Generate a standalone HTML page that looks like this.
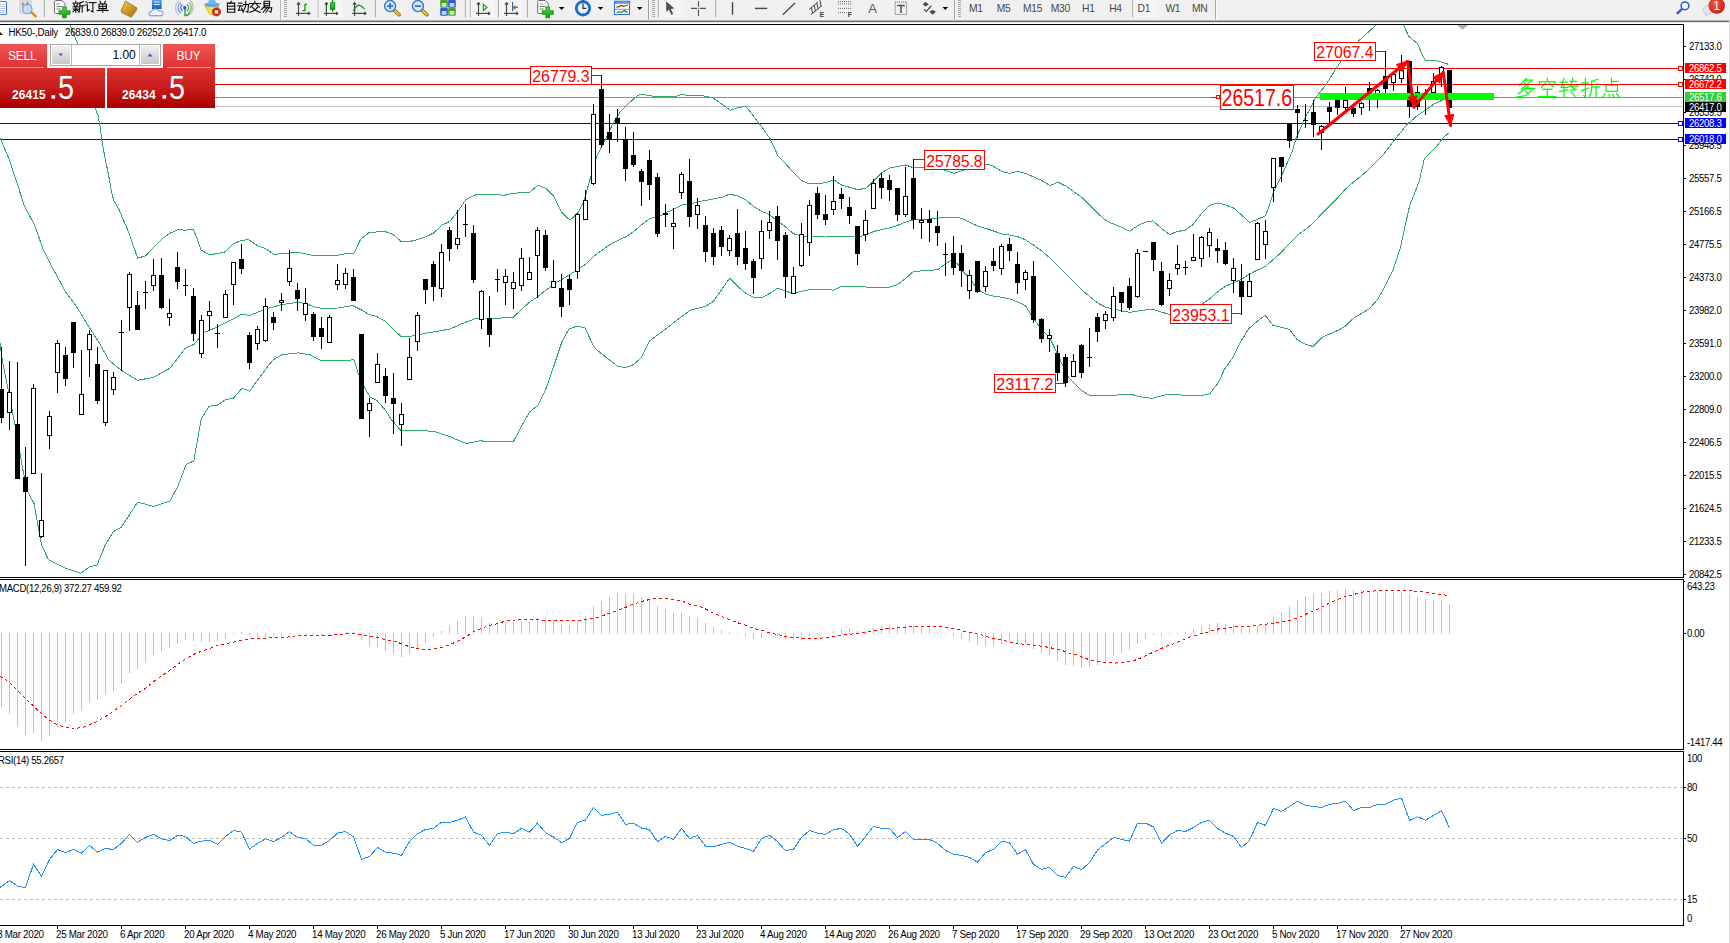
<!DOCTYPE html>
<html><head><meta charset="utf-8"><title>HK50 Daily</title>
<style>html,body{margin:0;padding:0;background:#fff;width:1730px;height:943px;overflow:hidden}svg{display:block}text{white-space:pre}</style>
</head><body>
<svg width="1730" height="943" viewBox="0 0 1730 943" font-family="'Liberation Sans', sans-serif" style="position:absolute;left:0;top:0">
<rect x="0" y="0" width="1730" height="943" fill="#fff" />
<g shape-rendering="crispEdges">
</g>
<polyline points="1526.68,78.30 1519.63,85.35" fill="none" stroke="#00ff00" stroke-width="1.25" stroke-linecap="square" stroke-linejoin="miter"/>
<polyline points="1525.12,80.18 1532.17,80.18 1521.20,89.27" fill="none" stroke="#00ff00" stroke-width="1.25" stroke-linecap="square" stroke-linejoin="miter"/>
<polyline points="1524.33,83.00 1527.47,85.04" fill="none" stroke="#00ff00" stroke-width="1.25" stroke-linecap="square" stroke-linejoin="miter"/>
<polyline points="1528.25,86.13 1518.07,93.97" fill="none" stroke="#00ff00" stroke-width="1.25" stroke-linecap="square" stroke-linejoin="miter"/>
<polyline points="1526.68,88.48 1534.52,88.48 1525.90,95.53 1516.50,97.10" fill="none" stroke="#00ff00" stroke-width="1.25" stroke-linecap="square" stroke-linejoin="miter"/>
<polyline points="1525.12,91.30 1528.25,93.18" fill="none" stroke="#00ff00" stroke-width="1.25" stroke-linecap="square" stroke-linejoin="miter"/>
<polyline points="1547.30,78.30 1547.30,80.34" fill="none" stroke="#00ff00" stroke-width="1.25" stroke-linecap="square" stroke-linejoin="miter"/>
<polyline points="1539.47,81.75 1555.13,81.75" fill="none" stroke="#00ff00" stroke-width="1.25" stroke-linecap="square" stroke-linejoin="miter"/>
<polyline points="1539.47,81.75 1539.47,84.57" fill="none" stroke="#00ff00" stroke-width="1.25" stroke-linecap="square" stroke-linejoin="miter"/>
<polyline points="1555.13,81.75 1554.04,84.57" fill="none" stroke="#00ff00" stroke-width="1.25" stroke-linecap="square" stroke-linejoin="miter"/>
<polyline points="1545.42,83.31 1541.50,87.39" fill="none" stroke="#00ff00" stroke-width="1.25" stroke-linecap="square" stroke-linejoin="miter"/>
<polyline points="1549.18,83.31 1553.25,86.92" fill="none" stroke="#00ff00" stroke-width="1.25" stroke-linecap="square" stroke-linejoin="miter"/>
<polyline points="1542.60,89.27 1552.00,89.27" fill="none" stroke="#00ff00" stroke-width="1.25" stroke-linecap="square" stroke-linejoin="miter"/>
<polyline points="1547.30,89.27 1547.30,96.63" fill="none" stroke="#00ff00" stroke-width="1.25" stroke-linecap="square" stroke-linejoin="miter"/>
<polyline points="1538.68,96.63 1555.92,96.63" fill="none" stroke="#00ff00" stroke-width="1.25" stroke-linecap="square" stroke-linejoin="miter"/>
<polyline points="1560.08,82.22 1567.13,82.22" fill="none" stroke="#00ff00" stroke-width="1.25" stroke-linecap="square" stroke-linejoin="miter"/>
<polyline points="1564.00,78.30 1561.18,87.39 1567.92,87.39" fill="none" stroke="#00ff00" stroke-width="1.25" stroke-linecap="square" stroke-linejoin="miter"/>
<polyline points="1564.00,84.57 1564.00,97.10" fill="none" stroke="#00ff00" stroke-width="1.25" stroke-linecap="square" stroke-linejoin="miter"/>
<polyline points="1559.30,91.62 1567.92,89.74" fill="none" stroke="#00ff00" stroke-width="1.25" stroke-linecap="square" stroke-linejoin="miter"/>
<polyline points="1569.95,81.43 1576.53,81.43" fill="none" stroke="#00ff00" stroke-width="1.25" stroke-linecap="square" stroke-linejoin="miter"/>
<polyline points="1568.39,86.13 1578.10,86.13" fill="none" stroke="#00ff00" stroke-width="1.25" stroke-linecap="square" stroke-linejoin="miter"/>
<polyline points="1572.77,78.30 1570.74,86.13 1575.75,89.58 1570.74,90.36" fill="none" stroke="#00ff00" stroke-width="1.25" stroke-linecap="square" stroke-linejoin="miter"/>
<polyline points="1571.52,92.40 1574.97,96.32" fill="none" stroke="#00ff00" stroke-width="1.25" stroke-linecap="square" stroke-linejoin="miter"/>
<polyline points="1581.48,83.00 1588.53,83.00" fill="none" stroke="#00ff00" stroke-width="1.25" stroke-linecap="square" stroke-linejoin="miter"/>
<polyline points="1585.40,78.30 1585.40,97.10 1583.52,95.53" fill="none" stroke="#00ff00" stroke-width="1.25" stroke-linecap="square" stroke-linejoin="miter"/>
<polyline points="1581.17,90.83 1588.53,88.01" fill="none" stroke="#00ff00" stroke-width="1.25" stroke-linecap="square" stroke-linejoin="miter"/>
<polyline points="1597.93,79.24 1591.67,81.43" fill="none" stroke="#00ff00" stroke-width="1.25" stroke-linecap="square" stroke-linejoin="miter"/>
<polyline points="1591.67,81.43 1591.67,90.05 1589.47,97.10" fill="none" stroke="#00ff00" stroke-width="1.25" stroke-linecap="square" stroke-linejoin="miter"/>
<polyline points="1591.67,86.92 1599.50,86.92" fill="none" stroke="#00ff00" stroke-width="1.25" stroke-linecap="square" stroke-linejoin="miter"/>
<polyline points="1596.05,86.92 1596.05,97.10" fill="none" stroke="#00ff00" stroke-width="1.25" stroke-linecap="square" stroke-linejoin="miter"/>
<polyline points="1611.50,78.30 1611.50,85.04" fill="none" stroke="#00ff00" stroke-width="1.25" stroke-linecap="square" stroke-linejoin="miter"/>
<polyline points="1611.50,81.43 1618.24,81.43" fill="none" stroke="#00ff00" stroke-width="1.25" stroke-linecap="square" stroke-linejoin="miter"/>
<polyline points="1606.02,85.04 1617.45,85.04 1617.45,91.30 1606.02,91.30 1606.02,85.04" fill="none" stroke="#00ff00" stroke-width="1.25" stroke-linecap="square" stroke-linejoin="miter"/>
<polyline points="1604.92,93.65 1603.04,97.10" fill="none" stroke="#00ff00" stroke-width="1.25" stroke-linecap="square" stroke-linejoin="miter"/>
<polyline points="1608.99,93.97 1609.78,97.10" fill="none" stroke="#00ff00" stroke-width="1.25" stroke-linecap="square" stroke-linejoin="miter"/>
<polyline points="1612.75,93.97 1613.85,97.10" fill="none" stroke="#00ff00" stroke-width="1.25" stroke-linecap="square" stroke-linejoin="miter"/>
<polyline points="1616.51,93.65 1619.33,97.10" fill="none" stroke="#00ff00" stroke-width="1.25" stroke-linecap="square" stroke-linejoin="miter"/>
<g shape-rendering="crispEdges">
<rect x="0" y="68" width="1683" height="1" fill="#ff0000" />
<rect x="0" y="84" width="1683" height="1" fill="#ff0000" />
<rect x="0" y="97" width="1683" height="1" fill="#32cd32" />
<rect x="0" y="106" width="1683" height="1" fill="#c0c0c0" />
<rect x="0" y="123" width="1683" height="1" fill="#0000ff" />
<rect x="0" y="139" width="1683" height="1" fill="#0000ff" />
</g>
<g id="bands" stroke-linejoin="round" shape-rendering="crispEdges">
<polyline points="70.2,25 76.8,41.6 96.1,110.2 98,115.3 99.9,125.4 101.8,139.4 103.7,150.9 106.2,163.6 108.8,176.3 112,194.1 113.9,200.5 119,209.4 123.4,220 129.5,234.5 137.6,258.1 145.7,255.8 153.8,247.2 161.8,239.1 170,233.3 178,229.4 185,230.3 193.1,229.2 196.5,236.8 201.2,250.2 209.2,254.6 217.3,253.7 225.4,251.8 233.5,243.7 241.6,240.3 248.6,239.6 257.8,246 265.9,248.8 274,254.6 282.1,253.4 298.3,252.5 312.1,255.3 322.5,255.8 337.6,255.3 344.5,253.9 353.8,253.4 360.7,239.1 368.8,232.9 383.8,231 393.1,234.5 401.2,241.5 409.3,241.5 417.4,239.7 425.5,236.9 433.6,233 441.7,225.3 449.8,221.4 457.9,211.4 466,199.4 474.1,195.3 479.9,194.1 491.4,194.1 504.1,195.3 513.4,193.4 521.5,192.5 529.6,192.3 537.7,185.3 545.8,188.3 553.8,196.4 561.9,212.6 570,220.2 578.1,212.6 583.9,201 590.8,176.8 596.6,157.1 604.7,140.9 612.8,123.6 620.9,110.9 629,103.2 637.1,95.8 641.7,94.2 653.3,96.3 669.5,96.3 674.1,97 681,94.7 690.3,95.4 701.8,95.4 713.4,98.2 721.5,103.9 730.3,110.2 737.7,107.9 745.8,106.2 753.8,116.6 762,127.1 770,138.6 778.1,156 784,162 793.2,172.4 801.3,180.5 809.4,183.9 817.5,183.5 825.6,182.8 833.7,179.8 841.8,185.1 849.9,187.4 858,189.7 866.1,188.1 874.2,180.5 882.3,172.4 889.2,168.2 897.3,166.6 905.4,165 913.5,167.7 922.7,167.7 941.2,168.9 954,173.5 966.7,168.9 985.2,164.3 992.1,165.4 1001.3,171.2 1009.4,173.5 1017.5,171.2 1025.6,173.5 1033.7,177 1041.8,180.5 1049.9,185.5 1058,182.3 1066.1,186.2 1074.2,192 1082.3,197.8 1090.4,205.9 1098.5,214 1106.5,220.9 1114.6,224.4 1121.6,227.4 1129.7,231.3 1137.8,225.5 1145.8,222.1 1152.8,220.9 1160.9,227.9 1169.5,234.6 1177.3,231.5 1185.1,230.3 1193,224.6 1201.6,213.3 1209.4,205.5 1217.2,202.9 1225,204.6 1233.7,208.1 1241.5,215 1249.8,222.5 1257.1,219.4 1265.4,215.9 1269.2,205.5 1273.6,191.6 1281.4,176 1289.2,158.7 1292.7,150 1295.7,139.3 1304.7,118.4 1311.7,105.9 1315.8,97.6 1325.6,85.1 1335.3,69.8 1340.8,61.5 1358.9,40.7 1376.3,24.7" fill="none" stroke="#2caa66" stroke-width="1" />
<polyline points="1403.3,24.7 1408.9,36.5 1417.2,43.4 1424.9,60.1 1436.7,60.8 1448.5,64.3" fill="none" stroke="#2caa66" stroke-width="1" />
<polyline points="0,138.5 1.3,140.7 8.9,158.5 16.5,181.4 24.2,205.6 31.8,220 34.7,225.2 42.8,248.4 53.2,269.2 65.9,292.3 76.3,306.2 89,327 99.4,343.2 108.7,360 121.4,370.4 137.6,380.3 153.8,377.3 170,368.1 176,360.5 185,348.4 194.2,344.3 203.5,332.8 217.3,327 233.5,318.9 241.6,314.3 249.7,315.4 265.9,308.9 282.1,304.5 298.3,302.2 306.4,303.8 314.5,306.9 322.5,308.5 337.6,308 352.6,305.5 360.7,309.6 368.8,314.3 376.9,316.6 385,321.2 393.1,329.3 401.2,336.5 409.3,336.5 419.7,334.4 433.6,331.9 449.8,329.1 461.4,324 475.2,318.7 484.5,318 498.4,318.2 513.4,317.1 521.5,309.5 529.6,302.1 537.7,296.7 545.8,290.3 553.8,284 561.9,279.4 570,274.5 578.1,269 586.2,264 594.3,255.8 602.4,250 610.5,244.2 618.6,240.1 625.5,237 633.6,231.5 641.7,224.6 649.8,218.4 657.9,217.2 666,212.6 674.1,209.1 682.2,205 690.3,204 698.4,201.7 706.5,200.3 714.6,198.7 722.6,197.1 729.6,194.1 737.7,196 745.8,199.9 753.8,206.8 762,211.4 770,214.9 778.1,221.8 784,225.5 793.2,233.6 801.3,236 809.4,236.6 825.6,236 841.8,236.6 858,237.1 866.1,234.8 874.2,231.3 889.2,227.9 897.3,225.5 905.4,222.1 913.5,219.8 929.7,219.1 937.8,218.2 945.8,217 956.3,217 962,218.6 970.1,222.5 978.2,226.2 986.3,228.6 994.4,231.3 1002.5,234.1 1010.6,235.3 1017.5,236.6 1025.6,239.9 1033.7,245.2 1041.8,251 1049.9,257.9 1058,266 1066.1,274.1 1074.2,282.2 1082.3,290.3 1090.4,297.2 1098.5,303.5 1106.5,307.6 1114.6,309.2 1121.6,311.1 1129.7,312.3 1137.8,311.1 1145.8,309.9 1153.9,309.5 1162,312.3 1170,314.6 1185,310 1201.6,304.3 1209.4,299.1 1217.2,292.2 1225,286.6 1233.7,282.7 1241.5,279.2 1249.8,274 1257.1,270.2 1265.4,266.5 1273.6,259.2 1281.4,252.3 1289.2,243.6 1297,235.8 1304.8,229.8 1312.6,223.7 1321.3,214.2 1329.1,206.4 1336.9,198.6 1344.7,189.9 1352.5,182.9 1361.1,176 1368.9,169.1 1376.8,161.3 1383.2,155 1395,139.3 1407.5,124 1417.2,115.7 1425.6,110.1 1433.9,103.9 1443.6,99.7 1449,97.5" fill="none" stroke="#2caa66" stroke-width="1" />
<polyline points="0,343 2.3,360 15,424.7 23.1,471 27.7,491.8 34,503.4 38.2,526.5 41.6,545 48.6,560 67,568.8 81,573.2 89,567 97.1,565.1 105.2,545 113.3,531.8 121.4,527 137.6,502.2 153.8,506.4 170,501 178,486 186.1,464.5 193.8,461 196.5,445.5 201.2,419 209.2,406.2 217.3,405.1 225.4,399.8 233.5,398.2 242,388.2 249.7,391.2 257.8,379.7 272.8,360 282,354.7 298.3,352.9 309.8,354.7 320.2,360 342,360 349,361 353.8,359 358.4,373.9 364.2,386.6 370,397 376.9,400.5 385,409.7 392,420.4 401.2,430.8 419.7,430.4 434.8,431.5 449.8,436.6 466,443.6 479.9,440.8 491.4,441.7 513.4,441.7 521.5,426.2 529.6,411.9 537.7,405.4 545.8,389.2 553.8,366.1 561.9,341.8 568.9,329.1 577,326.1 585,328 594.3,347.6 602.4,354.5 617.4,366.1 625.5,367.7 632.5,365 640.6,358.7 649.8,340.7 657.9,334.9 672.9,323.3 690.3,310.2 705.3,306.5 713.4,301.4 721.5,289.8 729.6,278.2 737.7,286.3 745.8,293.3 753.8,297.4 762,297.4 770,293.3 777.4,288.2 784,290.3 793.2,293.8 801.3,291.4 809.4,289.6 825.6,289.1 833.7,290.3 841.8,286.1 858,286.4 869.5,287.3 889.2,287.3 897.3,284.5 905.4,278.7 913.5,271.3 929.7,270.6 937.8,269.5 945.8,263.7 950.5,260.9 957.4,263.7 962,270.6 970.1,278.7 977.1,289.1 985.2,293.8 993.2,296.1 1001.3,297.2 1009.4,298.8 1017.5,301.8 1025.6,306 1033,317.6 1041.1,328.9 1049.2,337 1054.1,346.8 1057.3,353.3 1062.2,364.6 1068.7,377.6 1075.2,384.1 1081.6,390.6 1089.8,395.5 1115.7,395.1 1130.3,394.2 1140,396.7 1152.2,398.4 1164.4,395.1 1174.1,394.2 1182.2,395.1 1203.3,395.1 1209.8,393.8 1217.9,383.3 1224.4,369.5 1232.5,358.1 1240.6,341.9 1248.7,328.9 1256.9,321.6 1265.2,315.3 1272.7,325.1 1280.8,327.2 1289.5,329.5 1297,339.5 1305.1,344.2 1313.2,346.5 1322.4,337.2 1330.5,333.5 1338.6,330.1 1345.5,326 1354.2,317.6 1361.7,313.3 1369.2,308.9 1377.9,299.1 1384.6,287 1392.4,271.4 1400.2,248.8 1405.4,224.6 1409.7,205.5 1414.9,192.5 1419.2,181.2 1424.4,158.7 1428.3,155 1436.7,146.2 1442.9,137.9 1448.5,133.3" fill="none" stroke="#2caa66" stroke-width="1" />
</g>
<g shape-rendering="crispEdges" id="candles">
<rect x="1" y="347" width="1" height="76" fill="#000" />
<rect x="-1" y="389" width="5" height="29" fill="#000" />
<rect x="9" y="361" width="1" height="69" fill="#000" />
<rect x="7" y="392" width="5" height="21" fill="#000" />
<rect x="8" y="393" width="3" height="19" fill="#fff" />
<rect x="17" y="362" width="1" height="117" fill="#000" />
<rect x="15" y="424" width="5" height="55" fill="#000" />
<rect x="25" y="447" width="1" height="119" fill="#000" />
<rect x="23" y="477" width="5" height="15" fill="#000" />
<rect x="33" y="384" width="1" height="90" fill="#000" />
<rect x="31" y="388" width="5" height="86" fill="#000" />
<rect x="32" y="389" width="3" height="84" fill="#fff" />
<rect x="41" y="473" width="1" height="65" fill="#000" />
<rect x="39" y="520" width="5" height="17" fill="#000" />
<rect x="40" y="521" width="3" height="15" fill="#fff" />
<rect x="49" y="411" width="1" height="38" fill="#000" />
<rect x="47" y="416" width="5" height="20" fill="#000" />
<rect x="48" y="417" width="3" height="18" fill="#fff" />
<rect x="57" y="340" width="1" height="53" fill="#000" />
<rect x="55" y="343" width="5" height="30" fill="#000" />
<rect x="56" y="344" width="3" height="28" fill="#fff" />
<rect x="65" y="347" width="1" height="39" fill="#000" />
<rect x="63" y="355" width="5" height="24" fill="#000" />
<rect x="73" y="322" width="1" height="46" fill="#000" />
<rect x="71" y="322" width="5" height="31" fill="#000" />
<rect x="81" y="350" width="1" height="65" fill="#000" />
<rect x="79" y="394" width="5" height="21" fill="#000" />
<rect x="80" y="395" width="3" height="19" fill="#fff" />
<rect x="89" y="330" width="1" height="47" fill="#000" />
<rect x="87" y="334" width="5" height="16" fill="#000" />
<rect x="88" y="335" width="3" height="14" fill="#fff" />
<rect x="97" y="347" width="1" height="57" fill="#000" />
<rect x="95" y="364" width="5" height="37" fill="#000" />
<rect x="105" y="370" width="1" height="56" fill="#000" />
<rect x="103" y="370" width="5" height="53" fill="#000" />
<rect x="104" y="371" width="3" height="51" fill="#fff" />
<rect x="113" y="372" width="1" height="23" fill="#000" />
<rect x="111" y="377" width="5" height="13" fill="#000" />
<rect x="112" y="378" width="3" height="11" fill="#fff" />
<rect x="121" y="320" width="1" height="51" fill="#000" />
<rect x="119" y="332" width="5" height="1" fill="#000" />
<rect x="129" y="272" width="1" height="59" fill="#000" />
<rect x="127" y="274" width="5" height="34" fill="#000" />
<rect x="128" y="275" width="3" height="32" fill="#fff" />
<rect x="137" y="291" width="1" height="39" fill="#000" />
<rect x="135" y="305" width="5" height="25" fill="#000" />
<rect x="145" y="281" width="1" height="28" fill="#000" />
<rect x="143" y="292" width="5" height="1" fill="#000" />
<rect x="153" y="259" width="1" height="32" fill="#000" />
<rect x="151" y="275" width="5" height="11" fill="#000" />
<rect x="152" y="276" width="3" height="9" fill="#fff" />
<rect x="161" y="258" width="1" height="51" fill="#000" />
<rect x="159" y="275" width="5" height="33" fill="#000" />
<rect x="169" y="299" width="1" height="27" fill="#000" />
<rect x="167" y="313" width="5" height="5" fill="#000" />
<rect x="168" y="314" width="3" height="3" fill="#fff" />
<rect x="177" y="252" width="1" height="37" fill="#000" />
<rect x="175" y="267" width="5" height="15" fill="#000" />
<rect x="185" y="269" width="1" height="27" fill="#000" />
<rect x="183" y="285" width="5" height="1" fill="#000" />
<rect x="193" y="288" width="1" height="53" fill="#000" />
<rect x="191" y="296" width="5" height="38" fill="#000" />
<rect x="201" y="315" width="1" height="43" fill="#000" />
<rect x="199" y="320" width="5" height="34" fill="#000" />
<rect x="200" y="321" width="3" height="32" fill="#fff" />
<rect x="209" y="301" width="1" height="30" fill="#000" />
<rect x="207" y="311" width="5" height="5" fill="#000" />
<rect x="208" y="312" width="3" height="3" fill="#fff" />
<rect x="217" y="324" width="1" height="24" fill="#000" />
<rect x="215" y="333" width="5" height="1" fill="#000" />
<rect x="225" y="290" width="1" height="28" fill="#000" />
<rect x="223" y="294" width="5" height="24" fill="#000" />
<rect x="224" y="295" width="3" height="22" fill="#fff" />
<rect x="233" y="262" width="1" height="43" fill="#000" />
<rect x="231" y="262" width="5" height="23" fill="#000" />
<rect x="232" y="263" width="3" height="21" fill="#fff" />
<rect x="241" y="244" width="1" height="30" fill="#000" />
<rect x="239" y="259" width="5" height="10" fill="#000" />
<rect x="249" y="332" width="1" height="37" fill="#000" />
<rect x="247" y="335" width="5" height="28" fill="#000" />
<rect x="257" y="326" width="1" height="24" fill="#000" />
<rect x="255" y="329" width="5" height="15" fill="#000" />
<rect x="256" y="330" width="3" height="13" fill="#fff" />
<rect x="265" y="298" width="1" height="44" fill="#000" />
<rect x="263" y="306" width="5" height="35" fill="#000" />
<rect x="264" y="307" width="3" height="33" fill="#fff" />
<rect x="273" y="312" width="1" height="18" fill="#000" />
<rect x="271" y="317" width="5" height="6" fill="#000" />
<rect x="281" y="293" width="1" height="18" fill="#000" />
<rect x="279" y="300" width="5" height="3" fill="#000" />
<rect x="280" y="301" width="3" height="1" fill="#fff" />
<rect x="289" y="250" width="1" height="36" fill="#000" />
<rect x="287" y="268" width="5" height="14" fill="#000" />
<rect x="288" y="269" width="3" height="12" fill="#fff" />
<rect x="297" y="283" width="1" height="28" fill="#000" />
<rect x="295" y="290" width="5" height="9" fill="#000" />
<rect x="305" y="288" width="1" height="33" fill="#000" />
<rect x="303" y="303" width="5" height="12" fill="#000" />
<rect x="304" y="304" width="3" height="10" fill="#fff" />
<rect x="313" y="312" width="1" height="29" fill="#000" />
<rect x="311" y="314" width="5" height="23" fill="#000" />
<rect x="321" y="317" width="1" height="32" fill="#000" />
<rect x="319" y="328" width="5" height="9" fill="#000" />
<rect x="329" y="315" width="1" height="28" fill="#000" />
<rect x="327" y="317" width="5" height="26" fill="#000" />
<rect x="328" y="318" width="3" height="24" fill="#fff" />
<rect x="337" y="264" width="1" height="26" fill="#000" />
<rect x="335" y="280" width="5" height="5" fill="#000" />
<rect x="336" y="281" width="3" height="3" fill="#fff" />
<rect x="345" y="268" width="1" height="21" fill="#000" />
<rect x="343" y="273" width="5" height="12" fill="#000" />
<rect x="344" y="274" width="3" height="10" fill="#fff" />
<rect x="353" y="269" width="1" height="32" fill="#000" />
<rect x="351" y="277" width="5" height="24" fill="#000" />
<rect x="361" y="334" width="1" height="85" fill="#000" />
<rect x="359" y="334" width="5" height="85" fill="#000" />
<rect x="369" y="398" width="1" height="39" fill="#000" />
<rect x="367" y="403" width="5" height="8" fill="#000" />
<rect x="368" y="404" width="3" height="6" fill="#fff" />
<rect x="377" y="353" width="1" height="30" fill="#000" />
<rect x="375" y="364" width="5" height="19" fill="#000" />
<rect x="376" y="365" width="3" height="17" fill="#fff" />
<rect x="385" y="368" width="1" height="35" fill="#000" />
<rect x="383" y="376" width="5" height="20" fill="#000" />
<rect x="393" y="373" width="1" height="61" fill="#000" />
<rect x="391" y="398" width="5" height="6" fill="#000" />
<rect x="401" y="403" width="1" height="43" fill="#000" />
<rect x="399" y="414" width="5" height="11" fill="#000" />
<rect x="400" y="415" width="3" height="9" fill="#fff" />
<rect x="409" y="338" width="1" height="42" fill="#000" />
<rect x="407" y="357" width="5" height="23" fill="#000" />
<rect x="408" y="358" width="3" height="21" fill="#fff" />
<rect x="417" y="312" width="1" height="39" fill="#000" />
<rect x="415" y="315" width="5" height="27" fill="#000" />
<rect x="416" y="316" width="3" height="25" fill="#fff" />
<rect x="425" y="279" width="1" height="25" fill="#000" />
<rect x="423" y="279" width="5" height="11" fill="#000" />
<rect x="433" y="261" width="1" height="40" fill="#000" />
<rect x="431" y="264" width="5" height="23" fill="#000" />
<rect x="441" y="244" width="1" height="53" fill="#000" />
<rect x="439" y="252" width="5" height="37" fill="#000" />
<rect x="440" y="253" width="3" height="35" fill="#fff" />
<rect x="449" y="227" width="1" height="34" fill="#000" />
<rect x="447" y="230" width="5" height="19" fill="#000" />
<rect x="457" y="210" width="1" height="39" fill="#000" />
<rect x="455" y="238" width="5" height="7" fill="#000" />
<rect x="456" y="239" width="3" height="5" fill="#fff" />
<rect x="465" y="204" width="1" height="33" fill="#000" />
<rect x="463" y="224" width="5" height="1" fill="#000" />
<rect x="473" y="225" width="1" height="58" fill="#000" />
<rect x="471" y="233" width="5" height="47" fill="#000" />
<rect x="481" y="290" width="1" height="39" fill="#000" />
<rect x="479" y="291" width="5" height="29" fill="#000" />
<rect x="480" y="292" width="3" height="27" fill="#fff" />
<rect x="489" y="296" width="1" height="51" fill="#000" />
<rect x="487" y="318" width="5" height="17" fill="#000" />
<rect x="497" y="269" width="1" height="23" fill="#000" />
<rect x="495" y="279" width="5" height="1" fill="#000" />
<rect x="505" y="269" width="1" height="36" fill="#000" />
<rect x="503" y="276" width="5" height="7" fill="#000" />
<rect x="504" y="277" width="3" height="5" fill="#fff" />
<rect x="513" y="272" width="1" height="37" fill="#000" />
<rect x="511" y="282" width="5" height="7" fill="#000" />
<rect x="512" y="283" width="3" height="5" fill="#fff" />
<rect x="521" y="248" width="1" height="43" fill="#000" />
<rect x="519" y="258" width="5" height="28" fill="#000" />
<rect x="520" y="259" width="3" height="26" fill="#fff" />
<rect x="529" y="257" width="1" height="23" fill="#000" />
<rect x="527" y="272" width="5" height="8" fill="#000" />
<rect x="528" y="273" width="3" height="6" fill="#fff" />
<rect x="537" y="227" width="1" height="71" fill="#000" />
<rect x="535" y="230" width="5" height="26" fill="#000" />
<rect x="536" y="231" width="3" height="24" fill="#fff" />
<rect x="545" y="230" width="1" height="41" fill="#000" />
<rect x="543" y="235" width="5" height="33" fill="#000" />
<rect x="553" y="260" width="1" height="28" fill="#000" />
<rect x="551" y="281" width="5" height="7" fill="#000" />
<rect x="552" y="282" width="3" height="5" fill="#fff" />
<rect x="561" y="274" width="1" height="43" fill="#000" />
<rect x="559" y="288" width="5" height="19" fill="#000" />
<rect x="569" y="275" width="1" height="30" fill="#000" />
<rect x="567" y="279" width="5" height="11" fill="#000" />
<rect x="577" y="213" width="1" height="66" fill="#000" />
<rect x="575" y="214" width="5" height="58" fill="#000" />
<rect x="576" y="215" width="3" height="56" fill="#fff" />
<rect x="585" y="190" width="1" height="30" fill="#000" />
<rect x="583" y="200" width="5" height="20" fill="#000" />
<rect x="584" y="201" width="3" height="18" fill="#fff" />
<rect x="593" y="104" width="1" height="81" fill="#000" />
<rect x="591" y="114" width="5" height="70" fill="#000" />
<rect x="592" y="115" width="3" height="68" fill="#fff" />
<rect x="601" y="76" width="1" height="72" fill="#000" />
<rect x="599" y="89" width="5" height="56" fill="#000" />
<rect x="609" y="114" width="1" height="39" fill="#000" />
<rect x="607" y="132" width="5" height="7" fill="#000" />
<rect x="617" y="109" width="1" height="33" fill="#000" />
<rect x="615" y="118" width="5" height="5" fill="#000" />
<rect x="625" y="127" width="1" height="54" fill="#000" />
<rect x="623" y="139" width="5" height="30" fill="#000" />
<rect x="633" y="132" width="1" height="35" fill="#000" />
<rect x="631" y="155" width="5" height="10" fill="#000" />
<rect x="641" y="169" width="1" height="37" fill="#000" />
<rect x="639" y="171" width="5" height="11" fill="#000" />
<rect x="649" y="150" width="1" height="50" fill="#000" />
<rect x="647" y="160" width="5" height="25" fill="#000" />
<rect x="657" y="173" width="1" height="64" fill="#000" />
<rect x="655" y="177" width="5" height="57" fill="#000" />
<rect x="665" y="204" width="1" height="23" fill="#000" />
<rect x="663" y="213" width="5" height="2" fill="#000" />
<rect x="673" y="208" width="1" height="41" fill="#000" />
<rect x="671" y="223" width="5" height="4" fill="#000" />
<rect x="672" y="224" width="3" height="2" fill="#fff" />
<rect x="681" y="172" width="1" height="27" fill="#000" />
<rect x="679" y="174" width="5" height="19" fill="#000" />
<rect x="680" y="175" width="3" height="17" fill="#fff" />
<rect x="689" y="159" width="1" height="68" fill="#000" />
<rect x="687" y="181" width="5" height="36" fill="#000" />
<rect x="697" y="198" width="1" height="31" fill="#000" />
<rect x="695" y="205" width="5" height="10" fill="#000" />
<rect x="696" y="206" width="3" height="8" fill="#fff" />
<rect x="705" y="216" width="1" height="46" fill="#000" />
<rect x="703" y="225" width="5" height="27" fill="#000" />
<rect x="713" y="228" width="1" height="37" fill="#000" />
<rect x="711" y="233" width="5" height="24" fill="#000" />
<rect x="721" y="226" width="1" height="30" fill="#000" />
<rect x="719" y="230" width="5" height="17" fill="#000" />
<rect x="729" y="235" width="1" height="21" fill="#000" />
<rect x="727" y="238" width="5" height="13" fill="#000" />
<rect x="728" y="239" width="3" height="11" fill="#fff" />
<rect x="737" y="209" width="1" height="56" fill="#000" />
<rect x="735" y="233" width="5" height="24" fill="#000" />
<rect x="745" y="231" width="1" height="39" fill="#000" />
<rect x="743" y="248" width="5" height="16" fill="#000" />
<rect x="753" y="259" width="1" height="35" fill="#000" />
<rect x="751" y="261" width="5" height="17" fill="#000" />
<rect x="761" y="220" width="1" height="49" fill="#000" />
<rect x="759" y="231" width="5" height="28" fill="#000" />
<rect x="760" y="232" width="3" height="26" fill="#fff" />
<rect x="769" y="211" width="1" height="28" fill="#000" />
<rect x="767" y="222" width="5" height="9" fill="#000" />
<rect x="768" y="223" width="3" height="7" fill="#fff" />
<rect x="777" y="206" width="1" height="54" fill="#000" />
<rect x="775" y="216" width="5" height="25" fill="#000" />
<rect x="785" y="232" width="1" height="66" fill="#000" />
<rect x="783" y="235" width="5" height="42" fill="#000" />
<rect x="793" y="267" width="1" height="27" fill="#000" />
<rect x="791" y="276" width="5" height="18" fill="#000" />
<rect x="792" y="277" width="3" height="16" fill="#fff" />
<rect x="801" y="223" width="1" height="44" fill="#000" />
<rect x="799" y="234" width="5" height="32" fill="#000" />
<rect x="800" y="235" width="3" height="30" fill="#fff" />
<rect x="809" y="200" width="1" height="56" fill="#000" />
<rect x="807" y="205" width="5" height="38" fill="#000" />
<rect x="808" y="206" width="3" height="36" fill="#fff" />
<rect x="817" y="187" width="1" height="32" fill="#000" />
<rect x="815" y="193" width="5" height="22" fill="#000" />
<rect x="825" y="195" width="1" height="30" fill="#000" />
<rect x="823" y="214" width="5" height="6" fill="#000" />
<rect x="833" y="176" width="1" height="39" fill="#000" />
<rect x="831" y="201" width="5" height="9" fill="#000" />
<rect x="832" y="202" width="3" height="7" fill="#fff" />
<rect x="841" y="188" width="1" height="21" fill="#000" />
<rect x="839" y="194" width="5" height="5" fill="#000" />
<rect x="849" y="197" width="1" height="27" fill="#000" />
<rect x="847" y="207" width="5" height="9" fill="#000" />
<rect x="857" y="226" width="1" height="39" fill="#000" />
<rect x="855" y="226" width="5" height="28" fill="#000" />
<rect x="865" y="210" width="1" height="31" fill="#000" />
<rect x="863" y="220" width="5" height="15" fill="#000" />
<rect x="864" y="221" width="3" height="13" fill="#fff" />
<rect x="873" y="179" width="1" height="30" fill="#000" />
<rect x="871" y="183" width="5" height="26" fill="#000" />
<rect x="872" y="184" width="3" height="24" fill="#fff" />
<rect x="881" y="173" width="1" height="26" fill="#000" />
<rect x="879" y="178" width="5" height="10" fill="#000" />
<rect x="889" y="175" width="1" height="26" fill="#000" />
<rect x="887" y="180" width="5" height="10" fill="#000" />
<rect x="897" y="188" width="1" height="33" fill="#000" />
<rect x="895" y="188" width="5" height="27" fill="#000" />
<rect x="905" y="167" width="1" height="50" fill="#000" />
<rect x="903" y="196" width="5" height="19" fill="#000" />
<rect x="904" y="197" width="3" height="17" fill="#fff" />
<rect x="913" y="159" width="1" height="70" fill="#000" />
<rect x="911" y="178" width="5" height="42" fill="#000" />
<rect x="921" y="208" width="1" height="31" fill="#000" />
<rect x="919" y="220" width="5" height="3" fill="#000" />
<rect x="920" y="221" width="3" height="1" fill="#fff" />
<rect x="929" y="210" width="1" height="32" fill="#000" />
<rect x="927" y="219" width="5" height="4" fill="#000" />
<rect x="937" y="211" width="1" height="35" fill="#000" />
<rect x="935" y="226" width="5" height="7" fill="#000" />
<rect x="945" y="243" width="1" height="33" fill="#000" />
<rect x="943" y="254" width="5" height="1" fill="#000" />
<rect x="953" y="236" width="1" height="39" fill="#000" />
<rect x="951" y="253" width="5" height="15" fill="#000" />
<rect x="961" y="245" width="1" height="42" fill="#000" />
<rect x="959" y="253" width="5" height="18" fill="#000" />
<rect x="969" y="270" width="1" height="29" fill="#000" />
<rect x="967" y="275" width="5" height="16" fill="#000" />
<rect x="968" y="276" width="3" height="14" fill="#fff" />
<rect x="977" y="261" width="1" height="32" fill="#000" />
<rect x="975" y="261" width="5" height="31" fill="#000" />
<rect x="985" y="266" width="1" height="26" fill="#000" />
<rect x="983" y="271" width="5" height="16" fill="#000" />
<rect x="984" y="272" width="3" height="14" fill="#fff" />
<rect x="993" y="248" width="1" height="23" fill="#000" />
<rect x="991" y="261" width="5" height="5" fill="#000" />
<rect x="1001" y="244" width="1" height="31" fill="#000" />
<rect x="999" y="246" width="5" height="23" fill="#000" />
<rect x="1000" y="247" width="3" height="21" fill="#fff" />
<rect x="1009" y="238" width="1" height="23" fill="#000" />
<rect x="1007" y="244" width="5" height="7" fill="#000" />
<rect x="1017" y="252" width="1" height="42" fill="#000" />
<rect x="1015" y="264" width="5" height="19" fill="#000" />
<rect x="1025" y="270" width="1" height="20" fill="#000" />
<rect x="1023" y="272" width="5" height="8" fill="#000" />
<rect x="1024" y="273" width="3" height="6" fill="#fff" />
<rect x="1033" y="261" width="1" height="62" fill="#000" />
<rect x="1031" y="276" width="5" height="44" fill="#000" />
<rect x="1041" y="318" width="1" height="25" fill="#000" />
<rect x="1039" y="319" width="5" height="20" fill="#000" />
<rect x="1049" y="329" width="1" height="23" fill="#000" />
<rect x="1047" y="335" width="5" height="4" fill="#000" />
<rect x="1048" y="336" width="3" height="2" fill="#fff" />
<rect x="1057" y="345" width="1" height="36" fill="#000" />
<rect x="1055" y="353" width="5" height="20" fill="#000" />
<rect x="1065" y="354" width="1" height="33" fill="#000" />
<rect x="1063" y="357" width="5" height="26" fill="#000" />
<rect x="1073" y="354" width="1" height="23" fill="#000" />
<rect x="1071" y="361" width="5" height="16" fill="#000" />
<rect x="1072" y="362" width="3" height="14" fill="#fff" />
<rect x="1081" y="344" width="1" height="34" fill="#000" />
<rect x="1079" y="345" width="5" height="28" fill="#000" />
<rect x="1089" y="328" width="1" height="39" fill="#000" />
<rect x="1087" y="357" width="5" height="1" fill="#000" />
<rect x="1097" y="313" width="1" height="29" fill="#000" />
<rect x="1095" y="317" width="5" height="15" fill="#000" />
<rect x="1105" y="311" width="1" height="18" fill="#000" />
<rect x="1103" y="314" width="5" height="7" fill="#000" />
<rect x="1104" y="315" width="3" height="5" fill="#fff" />
<rect x="1113" y="287" width="1" height="34" fill="#000" />
<rect x="1111" y="296" width="5" height="22" fill="#000" />
<rect x="1112" y="297" width="3" height="20" fill="#fff" />
<rect x="1121" y="292" width="1" height="20" fill="#000" />
<rect x="1119" y="292" width="5" height="11" fill="#000" />
<rect x="1129" y="278" width="1" height="32" fill="#000" />
<rect x="1127" y="286" width="5" height="22" fill="#000" />
<rect x="1137" y="249" width="1" height="49" fill="#000" />
<rect x="1135" y="253" width="5" height="44" fill="#000" />
<rect x="1136" y="254" width="3" height="42" fill="#fff" />
<rect x="1143" y="251" width="5" height="1" fill="#000" />
<rect x="1153" y="242" width="1" height="29" fill="#000" />
<rect x="1151" y="242" width="5" height="18" fill="#000" />
<rect x="1161" y="262" width="1" height="44" fill="#000" />
<rect x="1159" y="271" width="5" height="34" fill="#000" />
<rect x="1169" y="273" width="1" height="23" fill="#000" />
<rect x="1167" y="280" width="5" height="9" fill="#000" />
<rect x="1168" y="281" width="3" height="7" fill="#fff" />
<rect x="1177" y="245" width="1" height="30" fill="#000" />
<rect x="1175" y="264" width="5" height="5" fill="#000" />
<rect x="1176" y="265" width="3" height="3" fill="#fff" />
<rect x="1185" y="261" width="1" height="14" fill="#000" />
<rect x="1183" y="267" width="5" height="1" fill="#000" />
<rect x="1193" y="234" width="1" height="27" fill="#000" />
<rect x="1191" y="257" width="5" height="4" fill="#000" />
<rect x="1192" y="258" width="3" height="2" fill="#fff" />
<rect x="1201" y="236" width="1" height="31" fill="#000" />
<rect x="1199" y="237" width="5" height="22" fill="#000" />
<rect x="1200" y="238" width="3" height="20" fill="#fff" />
<rect x="1209" y="228" width="1" height="29" fill="#000" />
<rect x="1207" y="232" width="5" height="14" fill="#000" />
<rect x="1208" y="233" width="3" height="12" fill="#fff" />
<rect x="1217" y="239" width="1" height="24" fill="#000" />
<rect x="1215" y="248" width="5" height="3" fill="#000" />
<rect x="1225" y="242" width="1" height="23" fill="#000" />
<rect x="1223" y="250" width="5" height="14" fill="#000" />
<rect x="1233" y="258" width="1" height="35" fill="#000" />
<rect x="1231" y="268" width="5" height="13" fill="#000" />
<rect x="1232" y="269" width="3" height="11" fill="#fff" />
<rect x="1241" y="264" width="1" height="51" fill="#000" />
<rect x="1239" y="281" width="5" height="16" fill="#000" />
<rect x="1249" y="273" width="1" height="24" fill="#000" />
<rect x="1247" y="281" width="5" height="16" fill="#000" />
<rect x="1248" y="282" width="3" height="14" fill="#fff" />
<rect x="1257" y="222" width="1" height="38" fill="#000" />
<rect x="1255" y="223" width="5" height="37" fill="#000" />
<rect x="1256" y="224" width="3" height="35" fill="#fff" />
<rect x="1265" y="220" width="1" height="39" fill="#000" />
<rect x="1263" y="231" width="5" height="14" fill="#000" />
<rect x="1264" y="232" width="3" height="12" fill="#fff" />
<rect x="1273" y="158" width="1" height="44" fill="#000" />
<rect x="1271" y="158" width="5" height="30" fill="#000" />
<rect x="1272" y="159" width="3" height="28" fill="#fff" />
<rect x="1281" y="157" width="1" height="25" fill="#000" />
<rect x="1279" y="157" width="5" height="10" fill="#000" />
<rect x="1289" y="124" width="1" height="24" fill="#000" />
<rect x="1287" y="124" width="5" height="17" fill="#000" />
<rect x="1297" y="105" width="1" height="33" fill="#000" />
<rect x="1295" y="109" width="5" height="4" fill="#000" />
<rect x="1305" y="104" width="1" height="24" fill="#000" />
<rect x="1303" y="120" width="5" height="1" fill="#000" />
<rect x="1313" y="100" width="1" height="37" fill="#000" />
<rect x="1311" y="112" width="5" height="13" fill="#000" />
<rect x="1321" y="125" width="1" height="25" fill="#000" />
<rect x="1319" y="126" width="5" height="7" fill="#000" />
<rect x="1320" y="127" width="3" height="5" fill="#fff" />
<rect x="1329" y="102" width="1" height="23" fill="#000" />
<rect x="1327" y="107" width="5" height="5" fill="#000" />
<rect x="1337" y="100" width="1" height="15" fill="#000" />
<rect x="1335" y="100" width="5" height="8" fill="#000" />
<rect x="1345" y="87" width="1" height="24" fill="#000" />
<rect x="1343" y="100" width="5" height="8" fill="#000" />
<rect x="1344" y="101" width="3" height="6" fill="#fff" />
<rect x="1353" y="106" width="1" height="11" fill="#000" />
<rect x="1351" y="108" width="5" height="6" fill="#000" />
<rect x="1361" y="102" width="1" height="13" fill="#000" />
<rect x="1359" y="103" width="5" height="5" fill="#000" />
<rect x="1360" y="104" width="3" height="3" fill="#fff" />
<rect x="1369" y="82" width="1" height="29" fill="#000" />
<rect x="1367" y="88" width="5" height="5" fill="#000" />
<rect x="1377" y="89" width="1" height="19" fill="#000" />
<rect x="1375" y="90" width="5" height="4" fill="#000" />
<rect x="1376" y="91" width="3" height="2" fill="#fff" />
<rect x="1385" y="51" width="1" height="42" fill="#000" />
<rect x="1383" y="76" width="5" height="13" fill="#000" />
<rect x="1393" y="73" width="1" height="18" fill="#000" />
<rect x="1391" y="74" width="5" height="9" fill="#000" />
<rect x="1392" y="75" width="3" height="7" fill="#fff" />
<rect x="1401" y="55" width="1" height="28" fill="#000" />
<rect x="1399" y="70" width="5" height="9" fill="#000" />
<rect x="1400" y="71" width="3" height="7" fill="#fff" />
<rect x="1409" y="61" width="1" height="57" fill="#000" />
<rect x="1407" y="61" width="5" height="46" fill="#000" />
<rect x="1417" y="86" width="1" height="24" fill="#000" />
<rect x="1415" y="92" width="5" height="15" fill="#000" />
<rect x="1425" y="89" width="1" height="26" fill="#000" />
<rect x="1423" y="99" width="5" height="1" fill="#000" />
<rect x="1433" y="73" width="1" height="21" fill="#000" />
<rect x="1431" y="81" width="5" height="12" fill="#000" />
<rect x="1432" y="82" width="3" height="10" fill="#fff" />
<rect x="1441" y="66" width="1" height="21" fill="#000" />
<rect x="1439" y="67" width="5" height="8" fill="#000" />
<rect x="1440" y="68" width="3" height="6" fill="#fff" />
<rect x="1449" y="70" width="1" height="38" fill="#000" />
<rect x="1447" y="70" width="5" height="38" fill="#000" />
</g>
<rect x="1320" y="93" width="174" height="7" fill="#00ff00" shape-rendering="crispEdges"/>
<g shape-rendering="crispEdges">
<rect x="591" y="75" width="11" height="1" fill="#ff0000" />
<rect x="601" y="75" width="1" height="14" fill="#000" />
<rect x="913" y="159" width="12" height="1" fill="#ff0000" />
<rect x="913" y="159" width="1" height="19" fill="#000" />
<rect x="1232" y="313" width="10" height="1" fill="#ff0000" />
<rect x="1241" y="296" width="1" height="18" fill="#000" />
<rect x="1056" y="383" width="10" height="1" fill="#ff0000" />
<rect x="1065" y="381" width="1" height="3" fill="#000" />
<rect x="1376" y="51" width="10" height="1" fill="#ff0000" />
<rect x="1385" y="51" width="1" height="25" fill="#000" />
<rect x="1211" y="97" width="9" height="1" fill="#ff0000" />
<rect x="1216.5" y="95.5" width="3" height="3" fill="#fff" stroke="#ff0000"/>
</g>
<rect x="530.5" y="66.5" width="61" height="18" fill="#fff" stroke="#ff0000" stroke-width="1" shape-rendering="crispEdges"/>
<text x="532.3" y="82.38" font-size="16.3" fill="#ff0000" textLength="57.2" lengthAdjust="spacingAndGlyphs">26779.3</text>
<rect x="924.5" y="150.5" width="60" height="19" fill="#fff" stroke="#ff0000" stroke-width="1" shape-rendering="crispEdges"/>
<text x="926.3" y="167.29" font-size="16.3" fill="#ff0000" textLength="56.2" lengthAdjust="spacingAndGlyphs">25785.8</text>
<rect x="1170.5" y="304.5" width="61" height="19" fill="#fff" stroke="#ff0000" stroke-width="1" shape-rendering="crispEdges"/>
<text x="1172.3" y="321.29" font-size="16.3" fill="#ff0000" textLength="57.2" lengthAdjust="spacingAndGlyphs">23953.1</text>
<rect x="994.5" y="374.5" width="61" height="18" fill="#fff" stroke="#ff0000" stroke-width="1" shape-rendering="crispEdges"/>
<text x="996.3" y="390.38" font-size="16.3" fill="#ff0000" textLength="57.2" lengthAdjust="spacingAndGlyphs">23117.2</text>
<rect x="1314.5" y="42.5" width="61" height="18" fill="#fff" stroke="#ff0000" stroke-width="1" shape-rendering="crispEdges"/>
<text x="1316.3" y="58.38" font-size="16.3" fill="#ff0000" textLength="57.2" lengthAdjust="spacingAndGlyphs">27067.4</text>
<rect x="1220.5" y="85.5" width="73" height="24" fill="#fff" stroke="#ff0000" stroke-width="1" shape-rendering="crispEdges"/>
<text x="1221.6" y="105.52" font-size="24" fill="#ff0000" textLength="70.4" lengthAdjust="spacingAndGlyphs">26517.6</text>
<g stroke="#ff0000" stroke-width="3" fill="#ff0000" stroke-linecap="round">
<line x1="1318" y1="134" x2="1407.5" y2="61.5"/>
<polygon stroke-width="1" points="1407.5,61.5 1402.0,71.5 1396.6,64.8"/>
<line x1="1407.5" y1="61.5" x2="1413.9" y2="107"/>
<polygon stroke-width="1" points="1413.9,107.0 1408.2,97.2 1416.7,96.0"/>
<line x1="1413.9" y1="107" x2="1443.3" y2="72.4"/>
<polygon stroke-width="1" points="1443.3,72.4 1439.8,83.2 1433.2,77.6"/>
<line x1="1443.3" y1="72.4" x2="1450.5" y2="125.5"/>
<polygon stroke-width="1" points="1450.5,125.5 1444.8,115.7 1453.4,114.5"/>
</g>
<polygon points="1457,25 1468,25 1462.5,30" fill="#b0b0b0"/>
<g shape-rendering="crispEdges">
<rect x="0" y="24" width="1684" height="1" fill="#000" />
<rect x="1683" y="24" width="1" height="901" fill="#000" />
<rect x="0" y="577" width="1684" height="1" fill="#000" />
<rect x="0" y="579" width="1684" height="1" fill="#000" />
<rect x="0" y="749" width="1684" height="1" fill="#000" />
<rect x="0" y="751" width="1684" height="1" fill="#000" />
<rect x="0" y="925" width="1684" height="1" fill="#000" />
<rect x="1683" y="578" width="1" height="1" fill="#fff" />
<rect x="1683" y="750" width="1" height="1" fill="#fff" />
<rect x="1683" y="46" width="3" height="1" fill="#000" />
<rect x="1683" y="79" width="3" height="1" fill="#000" />
<rect x="1683" y="112" width="3" height="1" fill="#000" />
<rect x="1683" y="145" width="3" height="1" fill="#000" />
<rect x="1683" y="178" width="3" height="1" fill="#000" />
<rect x="1683" y="211" width="3" height="1" fill="#000" />
<rect x="1683" y="244" width="3" height="1" fill="#000" />
<rect x="1683" y="277" width="3" height="1" fill="#000" />
<rect x="1683" y="310" width="3" height="1" fill="#000" />
<rect x="1683" y="343" width="3" height="1" fill="#000" />
<rect x="1683" y="376" width="3" height="1" fill="#000" />
<rect x="1683" y="409" width="3" height="1" fill="#000" />
<rect x="1683" y="442" width="3" height="1" fill="#000" />
<rect x="1683" y="475" width="3" height="1" fill="#000" />
<rect x="1683" y="508" width="3" height="1" fill="#000" />
<rect x="1683" y="541" width="3" height="1" fill="#000" />
<rect x="1683" y="574" width="3" height="1" fill="#000" />
</g>
<text transform="translate(1689 50) scale(1 1.1)" font-size="9.6" fill="#000" text-anchor="start" font-weight="normal" letter-spacing="-0.32" >27133.0</text>
<text transform="translate(1689 83.03) scale(1 1.1)" font-size="9.6" fill="#000" text-anchor="start" font-weight="normal" letter-spacing="-0.32" >26742.0</text>
<text transform="translate(1689 116.06) scale(1 1.1)" font-size="9.6" fill="#000" text-anchor="start" font-weight="normal" letter-spacing="-0.32" >26339.5</text>
<text transform="translate(1689 149.09) scale(1 1.1)" font-size="9.6" fill="#000" text-anchor="start" font-weight="normal" letter-spacing="-0.32" >25948.5</text>
<text transform="translate(1689 182.12) scale(1 1.1)" font-size="9.6" fill="#000" text-anchor="start" font-weight="normal" letter-spacing="-0.32" >25557.5</text>
<text transform="translate(1689 215.15) scale(1 1.1)" font-size="9.6" fill="#000" text-anchor="start" font-weight="normal" letter-spacing="-0.32" >25166.5</text>
<text transform="translate(1689 248.18) scale(1 1.1)" font-size="9.6" fill="#000" text-anchor="start" font-weight="normal" letter-spacing="-0.32" >24775.5</text>
<text transform="translate(1689 281.21) scale(1 1.1)" font-size="9.6" fill="#000" text-anchor="start" font-weight="normal" letter-spacing="-0.32" >24373.0</text>
<text transform="translate(1689 314.24) scale(1 1.1)" font-size="9.6" fill="#000" text-anchor="start" font-weight="normal" letter-spacing="-0.32" >23982.0</text>
<text transform="translate(1689 347.27) scale(1 1.1)" font-size="9.6" fill="#000" text-anchor="start" font-weight="normal" letter-spacing="-0.32" >23591.0</text>
<text transform="translate(1689 380.3) scale(1 1.1)" font-size="9.6" fill="#000" text-anchor="start" font-weight="normal" letter-spacing="-0.32" >23200.0</text>
<text transform="translate(1689 413.33) scale(1 1.1)" font-size="9.6" fill="#000" text-anchor="start" font-weight="normal" letter-spacing="-0.32" >22809.0</text>
<text transform="translate(1689 446.36) scale(1 1.1)" font-size="9.6" fill="#000" text-anchor="start" font-weight="normal" letter-spacing="-0.32" >22406.5</text>
<text transform="translate(1689 479.39) scale(1 1.1)" font-size="9.6" fill="#000" text-anchor="start" font-weight="normal" letter-spacing="-0.32" >22015.5</text>
<text transform="translate(1689 512.42) scale(1 1.1)" font-size="9.6" fill="#000" text-anchor="start" font-weight="normal" letter-spacing="-0.32" >21624.5</text>
<text transform="translate(1689 545.45) scale(1 1.1)" font-size="9.6" fill="#000" text-anchor="start" font-weight="normal" letter-spacing="-0.32" >21233.5</text>
<text transform="translate(1689 578.48) scale(1 1.1)" font-size="9.6" fill="#000" text-anchor="start" font-weight="normal" letter-spacing="-0.32" >20842.5</text>
<rect x="1685" y="63" width="41" height="10" fill="#ff0000" shape-rendering="crispEdges"/>
<text transform="translate(1689 71.5) scale(1 1.1)" font-size="9.6" fill="#fff" text-anchor="start" font-weight="normal" letter-spacing="-0.32" >26862.5</text>
<rect x="1685" y="79" width="41" height="10" fill="#ff0000" shape-rendering="crispEdges"/>
<text transform="translate(1689 87.5) scale(1 1.1)" font-size="9.6" fill="#fff" text-anchor="start" font-weight="normal" letter-spacing="-0.32" >26672.2</text>
<rect x="1685" y="92" width="41" height="10" fill="#32cd32" shape-rendering="crispEdges"/>
<text transform="translate(1689 100.5) scale(1 1.1)" font-size="9.6" fill="#fff" text-anchor="start" font-weight="normal" letter-spacing="-0.32" >26517.6</text>
<rect x="1685" y="102" width="41" height="10" fill="#000" shape-rendering="crispEdges"/>
<text transform="translate(1689 110.5) scale(1 1.1)" font-size="9.6" fill="#fff" text-anchor="start" font-weight="normal" letter-spacing="-0.32" >26417.0</text>
<rect x="1685" y="118" width="41" height="10" fill="#0000ff" shape-rendering="crispEdges"/>
<text transform="translate(1689 126.5) scale(1 1.1)" font-size="9.6" fill="#fff" text-anchor="start" font-weight="normal" letter-spacing="-0.32" >26208.3</text>
<rect x="1685" y="134" width="41" height="10" fill="#0000ff" shape-rendering="crispEdges"/>
<text transform="translate(1689 142.5) scale(1 1.1)" font-size="9.6" fill="#fff" text-anchor="start" font-weight="normal" letter-spacing="-0.32" >26018.0</text>
<g shape-rendering="crispEdges" fill="#fff">
<rect x="1678.5" y="66.5" width="4" height="4" stroke="#ff0000"/>
<rect x="1678.5" y="82.5" width="4" height="4" stroke="#ff0000"/>
<rect x="1678.5" y="121.5" width="4" height="4" stroke="#0000ff"/>
<rect x="1678.5" y="137.5" width="4" height="4" stroke="#0000ff"/>
</g>
<g shape-rendering="crispEdges">
<rect x="1" y="633" width="1" height="74" fill="#c0c0c0" />
<rect x="9" y="633" width="1" height="81" fill="#c0c0c0" />
<rect x="17" y="633" width="1" height="93" fill="#c0c0c0" />
<rect x="25" y="633" width="1" height="102" fill="#c0c0c0" />
<rect x="33" y="633" width="1" height="100" fill="#c0c0c0" />
<rect x="41" y="633" width="1" height="108" fill="#c0c0c0" />
<rect x="49" y="633" width="1" height="103" fill="#c0c0c0" />
<rect x="57" y="633" width="1" height="94" fill="#c0c0c0" />
<rect x="65" y="633" width="1" height="89" fill="#c0c0c0" />
<rect x="73" y="633" width="1" height="81" fill="#c0c0c0" />
<rect x="81" y="633" width="1" height="77" fill="#c0c0c0" />
<rect x="89" y="633" width="1" height="69" fill="#c0c0c0" />
<rect x="97" y="633" width="1" height="67" fill="#c0c0c0" />
<rect x="105" y="633" width="1" height="61" fill="#c0c0c0" />
<rect x="113" y="633" width="1" height="58" fill="#c0c0c0" />
<rect x="121" y="633" width="1" height="51" fill="#c0c0c0" />
<rect x="129" y="633" width="1" height="40" fill="#c0c0c0" />
<rect x="137" y="633" width="1" height="36" fill="#c0c0c0" />
<rect x="145" y="633" width="1" height="29" fill="#c0c0c0" />
<rect x="153" y="633" width="1" height="22" fill="#c0c0c0" />
<rect x="161" y="633" width="1" height="18" fill="#c0c0c0" />
<rect x="169" y="633" width="1" height="15" fill="#c0c0c0" />
<rect x="177" y="633" width="1" height="11" fill="#c0c0c0" />
<rect x="185" y="633" width="1" height="7" fill="#c0c0c0" />
<rect x="193" y="633" width="1" height="8" fill="#c0c0c0" />
<rect x="201" y="633" width="1" height="9" fill="#c0c0c0" />
<rect x="209" y="633" width="1" height="9" fill="#c0c0c0" />
<rect x="217" y="633" width="1" height="8" fill="#c0c0c0" />
<rect x="225" y="633" width="1" height="6" fill="#c0c0c0" />
<rect x="233" y="633" width="1" height="1" fill="#c0c0c0" />
<rect x="241" y="632" width="1" height="2" fill="#c0c0c0" />
<rect x="249" y="633" width="1" height="3" fill="#c0c0c0" />
<rect x="257" y="633" width="1" height="4" fill="#c0c0c0" />
<rect x="265" y="633" width="1" height="4" fill="#c0c0c0" />
<rect x="273" y="633" width="1" height="3" fill="#c0c0c0" />
<rect x="281" y="633" width="1" height="3" fill="#c0c0c0" />
<rect x="289" y="633" width="1" height="1" fill="#c0c0c0" />
<rect x="297" y="633" width="1" height="1" fill="#c0c0c0" />
<rect x="305" y="633" width="1" height="1" fill="#c0c0c0" />
<rect x="313" y="633" width="1" height="2" fill="#c0c0c0" />
<rect x="321" y="633" width="1" height="3" fill="#c0c0c0" />
<rect x="329" y="633" width="1" height="3" fill="#c0c0c0" />
<rect x="337" y="633" width="1" height="1" fill="#c0c0c0" />
<rect x="345" y="632" width="1" height="2" fill="#c0c0c0" />
<rect x="353" y="632" width="1" height="2" fill="#c0c0c0" />
<rect x="361" y="633" width="1" height="7" fill="#c0c0c0" />
<rect x="369" y="633" width="1" height="13" fill="#c0c0c0" />
<rect x="377" y="633" width="1" height="14" fill="#c0c0c0" />
<rect x="385" y="633" width="1" height="18" fill="#c0c0c0" />
<rect x="393" y="633" width="1" height="21" fill="#c0c0c0" />
<rect x="401" y="633" width="1" height="24" fill="#c0c0c0" />
<rect x="409" y="633" width="1" height="21" fill="#c0c0c0" />
<rect x="417" y="633" width="1" height="15" fill="#c0c0c0" />
<rect x="425" y="633" width="1" height="10" fill="#c0c0c0" />
<rect x="433" y="633" width="1" height="4" fill="#c0c0c0" />
<rect x="441" y="631" width="1" height="3" fill="#c0c0c0" />
<rect x="449" y="626" width="1" height="8" fill="#c0c0c0" />
<rect x="457" y="621" width="1" height="13" fill="#c0c0c0" />
<rect x="465" y="616" width="1" height="18" fill="#c0c0c0" />
<rect x="473" y="616" width="1" height="18" fill="#c0c0c0" />
<rect x="481" y="618" width="1" height="16" fill="#c0c0c0" />
<rect x="489" y="623" width="1" height="11" fill="#c0c0c0" />
<rect x="497" y="623" width="1" height="11" fill="#c0c0c0" />
<rect x="505" y="622" width="1" height="12" fill="#c0c0c0" />
<rect x="513" y="622" width="1" height="12" fill="#c0c0c0" />
<rect x="521" y="621" width="1" height="13" fill="#c0c0c0" />
<rect x="529" y="621" width="1" height="13" fill="#c0c0c0" />
<rect x="537" y="618" width="1" height="16" fill="#c0c0c0" />
<rect x="545" y="618" width="1" height="16" fill="#c0c0c0" />
<rect x="553" y="620" width="1" height="14" fill="#c0c0c0" />
<rect x="561" y="624" width="1" height="10" fill="#c0c0c0" />
<rect x="569" y="625" width="1" height="9" fill="#c0c0c0" />
<rect x="577" y="621" width="1" height="13" fill="#c0c0c0" />
<rect x="585" y="616" width="1" height="18" fill="#c0c0c0" />
<rect x="593" y="606" width="1" height="28" fill="#c0c0c0" />
<rect x="601" y="601" width="1" height="33" fill="#c0c0c0" />
<rect x="609" y="597" width="1" height="37" fill="#c0c0c0" />
<rect x="617" y="593" width="1" height="41" fill="#c0c0c0" />
<rect x="625" y="594" width="1" height="40" fill="#c0c0c0" />
<rect x="633" y="594" width="1" height="40" fill="#c0c0c0" />
<rect x="641" y="597" width="1" height="37" fill="#c0c0c0" />
<rect x="649" y="599" width="1" height="35" fill="#c0c0c0" />
<rect x="657" y="606" width="1" height="28" fill="#c0c0c0" />
<rect x="665" y="609" width="1" height="25" fill="#c0c0c0" />
<rect x="673" y="613" width="1" height="21" fill="#c0c0c0" />
<rect x="681" y="613" width="1" height="21" fill="#c0c0c0" />
<rect x="689" y="616" width="1" height="18" fill="#c0c0c0" />
<rect x="697" y="618" width="1" height="16" fill="#c0c0c0" />
<rect x="705" y="623" width="1" height="11" fill="#c0c0c0" />
<rect x="713" y="627" width="1" height="7" fill="#c0c0c0" />
<rect x="721" y="630" width="1" height="4" fill="#c0c0c0" />
<rect x="729" y="632" width="1" height="2" fill="#c0c0c0" />
<rect x="737" y="633" width="1" height="1" fill="#c0c0c0" />
<rect x="745" y="633" width="1" height="3" fill="#c0c0c0" />
<rect x="753" y="633" width="1" height="6" fill="#c0c0c0" />
<rect x="761" y="633" width="1" height="5" fill="#c0c0c0" />
<rect x="769" y="633" width="1" height="2" fill="#c0c0c0" />
<rect x="777" y="633" width="1" height="3" fill="#c0c0c0" />
<rect x="785" y="633" width="1" height="6" fill="#c0c0c0" />
<rect x="793" y="633" width="1" height="7" fill="#c0c0c0" />
<rect x="801" y="633" width="1" height="7" fill="#c0c0c0" />
<rect x="809" y="633" width="1" height="3" fill="#c0c0c0" />
<rect x="817" y="633" width="1" height="1" fill="#c0c0c0" />
<rect x="825" y="633" width="1" height="1" fill="#c0c0c0" />
<rect x="833" y="631" width="1" height="3" fill="#c0c0c0" />
<rect x="841" y="629" width="1" height="5" fill="#c0c0c0" />
<rect x="849" y="628" width="1" height="6" fill="#c0c0c0" />
<rect x="857" y="631" width="1" height="3" fill="#c0c0c0" />
<rect x="865" y="631" width="1" height="3" fill="#c0c0c0" />
<rect x="873" y="628" width="1" height="6" fill="#c0c0c0" />
<rect x="881" y="626" width="1" height="8" fill="#c0c0c0" />
<rect x="889" y="625" width="1" height="9" fill="#c0c0c0" />
<rect x="897" y="626" width="1" height="8" fill="#c0c0c0" />
<rect x="905" y="625" width="1" height="9" fill="#c0c0c0" />
<rect x="913" y="626" width="1" height="8" fill="#c0c0c0" />
<rect x="921" y="628" width="1" height="6" fill="#c0c0c0" />
<rect x="929" y="629" width="1" height="5" fill="#c0c0c0" />
<rect x="937" y="631" width="1" height="3" fill="#c0c0c0" />
<rect x="945" y="633" width="1" height="1" fill="#c0c0c0" />
<rect x="953" y="633" width="1" height="3" fill="#c0c0c0" />
<rect x="961" y="633" width="1" height="6" fill="#c0c0c0" />
<rect x="969" y="633" width="1" height="9" fill="#c0c0c0" />
<rect x="977" y="633" width="1" height="12" fill="#c0c0c0" />
<rect x="985" y="633" width="1" height="13" fill="#c0c0c0" />
<rect x="993" y="633" width="1" height="13" fill="#c0c0c0" />
<rect x="1001" y="633" width="1" height="11" fill="#c0c0c0" />
<rect x="1009" y="633" width="1" height="9" fill="#c0c0c0" />
<rect x="1017" y="633" width="1" height="11" fill="#c0c0c0" />
<rect x="1025" y="633" width="1" height="11" fill="#c0c0c0" />
<rect x="1033" y="633" width="1" height="16" fill="#c0c0c0" />
<rect x="1041" y="633" width="1" height="20" fill="#c0c0c0" />
<rect x="1049" y="633" width="1" height="23" fill="#c0c0c0" />
<rect x="1057" y="633" width="1" height="28" fill="#c0c0c0" />
<rect x="1065" y="633" width="1" height="32" fill="#c0c0c0" />
<rect x="1073" y="633" width="1" height="33" fill="#c0c0c0" />
<rect x="1081" y="633" width="1" height="35" fill="#c0c0c0" />
<rect x="1089" y="633" width="1" height="34" fill="#c0c0c0" />
<rect x="1097" y="633" width="1" height="32" fill="#c0c0c0" />
<rect x="1105" y="633" width="1" height="28" fill="#c0c0c0" />
<rect x="1113" y="633" width="1" height="23" fill="#c0c0c0" />
<rect x="1121" y="633" width="1" height="20" fill="#c0c0c0" />
<rect x="1129" y="633" width="1" height="17" fill="#c0c0c0" />
<rect x="1137" y="633" width="1" height="11" fill="#c0c0c0" />
<rect x="1145" y="633" width="1" height="6" fill="#c0c0c0" />
<rect x="1153" y="633" width="1" height="2" fill="#c0c0c0" />
<rect x="1161" y="633" width="1" height="3" fill="#c0c0c0" />
<rect x="1169" y="633" width="1" height="1" fill="#c0c0c0" />
<rect x="1177" y="633" width="1" height="1" fill="#c0c0c0" />
<rect x="1185" y="632" width="1" height="2" fill="#c0c0c0" />
<rect x="1193" y="629" width="1" height="5" fill="#c0c0c0" />
<rect x="1201" y="626" width="1" height="8" fill="#c0c0c0" />
<rect x="1209" y="624" width="1" height="10" fill="#c0c0c0" />
<rect x="1217" y="623" width="1" height="11" fill="#c0c0c0" />
<rect x="1225" y="624" width="1" height="10" fill="#c0c0c0" />
<rect x="1233" y="625" width="1" height="9" fill="#c0c0c0" />
<rect x="1241" y="628" width="1" height="6" fill="#c0c0c0" />
<rect x="1249" y="629" width="1" height="5" fill="#c0c0c0" />
<rect x="1257" y="626" width="1" height="8" fill="#c0c0c0" />
<rect x="1265" y="624" width="1" height="10" fill="#c0c0c0" />
<rect x="1273" y="617" width="1" height="17" fill="#c0c0c0" />
<rect x="1281" y="612" width="1" height="22" fill="#c0c0c0" />
<rect x="1289" y="606" width="1" height="28" fill="#c0c0c0" />
<rect x="1297" y="600" width="1" height="34" fill="#c0c0c0" />
<rect x="1305" y="596" width="1" height="38" fill="#c0c0c0" />
<rect x="1313" y="594" width="1" height="40" fill="#c0c0c0" />
<rect x="1321" y="593" width="1" height="41" fill="#c0c0c0" />
<rect x="1329" y="591" width="1" height="43" fill="#c0c0c0" />
<rect x="1337" y="590" width="1" height="44" fill="#c0c0c0" />
<rect x="1345" y="589" width="1" height="45" fill="#c0c0c0" />
<rect x="1353" y="590" width="1" height="44" fill="#c0c0c0" />
<rect x="1361" y="590" width="1" height="44" fill="#c0c0c0" />
<rect x="1369" y="591" width="1" height="43" fill="#c0c0c0" />
<rect x="1377" y="591" width="1" height="43" fill="#c0c0c0" />
<rect x="1385" y="592" width="1" height="42" fill="#c0c0c0" />
<rect x="1393" y="592" width="1" height="42" fill="#c0c0c0" />
<rect x="1401" y="591" width="1" height="43" fill="#c0c0c0" />
<rect x="1409" y="594" width="1" height="40" fill="#c0c0c0" />
<rect x="1417" y="597" width="1" height="37" fill="#c0c0c0" />
<rect x="1425" y="599" width="1" height="35" fill="#c0c0c0" />
<rect x="1433" y="600" width="1" height="34" fill="#c0c0c0" />
<rect x="1441" y="600" width="1" height="34" fill="#c0c0c0" />
<rect x="1449" y="604" width="1" height="30" fill="#c0c0c0" />
<rect x="1683" y="633" width="3" height="1" fill="#000" />
<rect x="1683" y="581" width="2" height="1" fill="#000" />
</g>
<polyline points="0,676.3 8.4,681.7 16.8,689.5 25.2,698.3 33.7,706.3 42.1,714.3 49.4,720 57.9,724.9 65.2,727.4 73.6,728.2 82,727.8 89.4,724.9 96.8,721.5 105.2,716.9 113.6,711 121,705.9 129.4,699.4 136.8,693.7 145.2,688.5 153.6,681.7 162,675.8 169.4,670.6 177.8,664.3 185.1,659 193.6,654.4 202,651 210.4,648.1 217.8,645.3 226.2,643.6 233.5,642.2 242,640.1 250.4,639 257.7,638.4 266.1,638 273.5,637.3 281.9,637.3 290.3,636.9 297.7,635.4 306.1,635.2 313.5,635.2 321.9,635.2 330.3,635.2 337.7,634.8 346.1,633.8 353.5,633.3 358.1,634.4 368.6,635.9 377,637.3 385.5,639.6 393.9,641.1 401.2,643.6 409.7,646.8 418.1,648.5 425.4,649.5 433.8,649.1 442.3,647.4 449.6,644.7 458,641.1 466.5,636.3 473.8,631.7 481.2,628.5 489.6,625.3 497,623.7 505.4,621.1 513.8,620.1 522.2,619.4 536.9,619.4 545.4,620.5 561.1,620.5 576.9,620.5 585.3,619.4 593.7,618.4 601.1,616.3 609.5,613.1 616.9,610.6 625.3,607.5 632.7,604.3 641.1,601.6 649.5,599.5 656.9,598.4 665.3,598.4 673.7,599.5 681.1,600.5 689.5,604.3 696.8,605.4 705.3,608.9 713.7,613.3 720.4,615.9 728.8,619.4 737.2,622.6 745.7,625.3 754.1,628.5 762.5,630.6 770.9,633.1 779.3,634.8 787.7,636.9 796.2,637.5 804.6,638.6 817.2,638.6 825.6,637.5 834,636.5 842.4,635.2 850.9,634.2 859.3,633.1 867.7,632.1 875.1,630.6 882.4,629.1 890.8,628.5 898.2,627.4 914,626.8 940.3,626.8 948.7,627.9 957.1,628.9 964.5,631.6 972.9,633.1 981.3,634.8 988.7,637.3 997.1,639 1004.4,640.7 1012.9,642.6 1021.3,643.9 1029.7,644.9 1038.1,645.7 1046.5,647 1053.9,648.5 1062.3,650.6 1069.7,653.1 1074.3,654.2 1080.6,656.3 1089,659.6 1097.5,661.7 1105.9,662.2 1114.3,663.2 1122.7,662.2 1135.3,660.1 1145.8,655.8 1152.2,652.7 1162.7,647.9 1169,645.3 1175.3,643.2 1182.7,640.1 1192.1,636.3 1199.5,634.2 1206.9,632.3 1217.4,629.1 1224.7,628.5 1233.2,627 1248.9,626.4 1257.4,625.3 1264.7,624.3 1273.1,623.2 1281.6,622.2 1288.9,620.5 1296.3,618.4 1304.7,614.8 1313.1,611 1320.5,607.9 1328.9,603.2 1337.3,599.5 1345.7,596.5 1353.1,594.8 1361.5,592.1 1368.9,591.7 1377.3,590.6 1411,590.4 1415.5,591.5 1421.6,591.7 1427.3,592.5 1433.4,593.5 1439.5,594.4 1447,595.3" fill="none" stroke="#ff0000" stroke-width="1" stroke-dasharray="3,3" shape-rendering="crispEdges"/>
<text transform="translate(1687 590) scale(1 1.1)" font-size="9.6" fill="#000" text-anchor="start" font-weight="normal" letter-spacing="-0.32" >643.23</text>
<text transform="translate(1687 637) scale(1 1.1)" font-size="9.6" fill="#000" text-anchor="start" font-weight="normal" letter-spacing="-0.32" >0.00</text>
<text transform="translate(1687 746) scale(1 1.1)" font-size="9.6" fill="#000" text-anchor="start" font-weight="normal" letter-spacing="-0.32" >-1417.44</text>
<text transform="translate(-1 592) scale(1 1.1)" font-size="9.6" fill="#000" text-anchor="start" font-weight="normal" letter-spacing="-0.3" >MACD(12,26,9) 372.27 459.92</text>
<g shape-rendering="crispEdges">
<line x1="0" y1="787.5" x2="1683" y2="787.5" stroke="#c0c0c0" stroke-dasharray="3,3"/>
<rect x="1683" y="787" width="3" height="1" fill="#000" />
<line x1="0" y1="838.5" x2="1683" y2="838.5" stroke="#c0c0c0" stroke-dasharray="3,3"/>
<rect x="1683" y="838" width="3" height="1" fill="#000" />
<line x1="0" y1="899.5" x2="1683" y2="899.5" stroke="#c0c0c0" stroke-dasharray="3,3"/>
<rect x="1683" y="899" width="3" height="1" fill="#000" />
</g>
<polyline points="-6.5,892 1.5,886.4 9.5,880.5 17.5,886.2 25.5,887.5 33.5,864.3 41.5,876.3 49.5,859.5 57.5,849.6 65.5,852.6 73.5,849.4 81.5,853.2 89.5,845.4 97.5,852.1 105.5,848.4 113.5,849.6 121.5,843.1 129.5,834.3 137.5,842.3 145.5,837.4 153.5,834.3 161.5,838.9 169.5,840.6 177.5,835.3 185.5,836.4 193.5,843.3 201.5,841.2 209.5,840.2 217.5,844.4 225.5,836.4 233.5,830.5 241.5,832.2 249.5,849 257.5,843.3 265.5,838.9 273.5,841.6 281.5,837.4 289.5,831.5 297.5,837.4 305.5,838.5 313.5,845.2 321.5,845.2 329.5,840.6 337.5,833.2 345.5,831.5 353.5,836.8 361.5,859.5 369.5,856.4 377.5,847.5 385.5,852.1 393.5,853.2 401.5,855.3 409.5,841.6 417.5,833.8 425.5,829.4 433.5,828.4 441.5,822.3 449.5,822.3 457.5,820.2 465.5,817 473.5,832.2 481.5,835.3 489.5,845.4 497.5,833.6 505.5,832.2 513.5,833.6 521.5,828.4 529.5,832.2 537.5,823.1 545.5,832.8 553.5,837 561.5,842.7 569.5,838.5 577.5,822.3 585.5,820.2 593.5,807.3 601.5,815.3 609.5,814.3 617.5,812.2 625.5,824.4 633.5,823.1 641.5,828 649.5,829.6 657.5,841.6 665.5,836.4 673.5,839.5 681.5,828.4 689.5,838.5 697.5,835.3 705.5,846.3 713.5,846.9 721.5,844.4 729.5,842.3 737.5,846.3 745.5,848.4 753.5,851.5 761.5,838.5 769.5,835.3 777.5,841.6 785.5,850.5 793.5,849.4 801.5,837.4 809.5,830.5 817.5,833.2 825.5,834.3 833.5,829.6 841.5,828.4 849.5,834.3 857.5,846.3 865.5,836.4 873.5,826.3 881.5,828.4 889.5,828.4 897.5,837.4 905.5,831.5 913.5,839.5 921.5,839.5 929.5,839.5 937.5,843.3 945.5,850.5 953.5,854.2 961.5,855.3 969.5,857.4 977.5,862.2 985.5,852.6 993.5,849.4 1001.5,841.2 1009.5,842.7 1017.5,854.2 1025.5,849.6 1033.5,864.3 1041.5,869.4 1049.5,867.3 1057.5,875.3 1065.5,877.4 1073.5,866.5 1081.5,869.6 1089.5,862.7 1097.5,850 1105.5,843.7 1113.5,837.4 1121.5,839.5 1129.5,841.2 1137.5,823.1 1145.5,823.1 1153.5,826.9 1161.5,843.3 1169.5,834.9 1177.5,830.5 1185.5,831.5 1193.5,827.5 1201.5,822.3 1209.5,820.2 1217.5,828.4 1225.5,833.2 1233.5,836.4 1241.5,847.5 1249.5,840.6 1257.5,822.3 1265.5,825.4 1273.5,808.4 1281.5,811.5 1289.5,806.5 1297.5,801.2 1305.5,805.2 1313.5,806.5 1321.5,807.5 1329.5,804.4 1337.5,803.3 1345.5,801.2 1353.5,810.5 1361.5,807.5 1369.5,807.5 1377.5,804.4 1385.5,804.4 1393.5,800.2 1401.5,798.1 1409.5,820.5 1417.5,816.7 1425.5,820.1 1433.5,815.5 1441.5,810.8 1449.5,827.9" fill="none" stroke="#1e90ff" stroke-width="1" shape-rendering="crispEdges"/>
<text transform="translate(1687 762) scale(1 1.1)" font-size="9.6" fill="#000" text-anchor="start" font-weight="normal" letter-spacing="-0.32" >100</text>
<text transform="translate(1687 791) scale(1 1.1)" font-size="9.6" fill="#000" text-anchor="start" font-weight="normal" letter-spacing="-0.32" >80</text>
<text transform="translate(1687 842) scale(1 1.1)" font-size="9.6" fill="#000" text-anchor="start" font-weight="normal" letter-spacing="-0.32" >50</text>
<text transform="translate(1687 903) scale(1 1.1)" font-size="9.6" fill="#000" text-anchor="start" font-weight="normal" letter-spacing="-0.32" >15</text>
<text transform="translate(1687 922) scale(1 1.1)" font-size="9.6" fill="#000" text-anchor="start" font-weight="normal" letter-spacing="-0.32" >0</text>
<text transform="translate(-2 764) scale(1 1.1)" font-size="9.6" fill="#000" text-anchor="start" font-weight="normal" letter-spacing="-0.3" >RSI(14) 55.2657</text>
<g shape-rendering="crispEdges">
<rect x="57" y="925" width="1" height="4" fill="#000" />
<rect x="121" y="925" width="1" height="4" fill="#000" />
<rect x="185" y="925" width="1" height="4" fill="#000" />
<rect x="249" y="925" width="1" height="4" fill="#000" />
<rect x="313" y="925" width="1" height="4" fill="#000" />
<rect x="377" y="925" width="1" height="4" fill="#000" />
<rect x="441" y="925" width="1" height="4" fill="#000" />
<rect x="505" y="925" width="1" height="4" fill="#000" />
<rect x="569" y="925" width="1" height="4" fill="#000" />
<rect x="633" y="925" width="1" height="4" fill="#000" />
<rect x="697" y="925" width="1" height="4" fill="#000" />
<rect x="761" y="925" width="1" height="4" fill="#000" />
<rect x="825" y="925" width="1" height="4" fill="#000" />
<rect x="889" y="925" width="1" height="4" fill="#000" />
<rect x="953" y="925" width="1" height="4" fill="#000" />
<rect x="1017" y="925" width="1" height="4" fill="#000" />
<rect x="1081" y="925" width="1" height="4" fill="#000" />
<rect x="1145" y="925" width="1" height="4" fill="#000" />
<rect x="1209" y="925" width="1" height="4" fill="#000" />
<rect x="1273" y="925" width="1" height="4" fill="#000" />
<rect x="1337" y="925" width="1" height="4" fill="#000" />
<rect x="1401" y="925" width="1" height="4" fill="#000" />
</g>
<text transform="translate(-8 938) scale(1 1.1)" font-size="9.8" fill="#000" text-anchor="start" font-weight="normal" letter-spacing="-0.3" >13 Mar 2020</text>
<text transform="translate(56 938) scale(1 1.1)" font-size="9.8" fill="#000" text-anchor="start" font-weight="normal" letter-spacing="-0.3" >25 Mar 2020</text>
<text transform="translate(120 938) scale(1 1.1)" font-size="9.8" fill="#000" text-anchor="start" font-weight="normal" letter-spacing="-0.3" >6 Apr 2020</text>
<text transform="translate(184 938) scale(1 1.1)" font-size="9.8" fill="#000" text-anchor="start" font-weight="normal" letter-spacing="-0.3" >20 Apr 2020</text>
<text transform="translate(248 938) scale(1 1.1)" font-size="9.8" fill="#000" text-anchor="start" font-weight="normal" letter-spacing="-0.3" >4 May 2020</text>
<text transform="translate(312 938) scale(1 1.1)" font-size="9.8" fill="#000" text-anchor="start" font-weight="normal" letter-spacing="-0.3" >14 May 2020</text>
<text transform="translate(376 938) scale(1 1.1)" font-size="9.8" fill="#000" text-anchor="start" font-weight="normal" letter-spacing="-0.3" >26 May 2020</text>
<text transform="translate(440 938) scale(1 1.1)" font-size="9.8" fill="#000" text-anchor="start" font-weight="normal" letter-spacing="-0.3" >5 Jun 2020</text>
<text transform="translate(504 938) scale(1 1.1)" font-size="9.8" fill="#000" text-anchor="start" font-weight="normal" letter-spacing="-0.3" >17 Jun 2020</text>
<text transform="translate(568 938) scale(1 1.1)" font-size="9.8" fill="#000" text-anchor="start" font-weight="normal" letter-spacing="-0.3" >30 Jun 2020</text>
<text transform="translate(632 938) scale(1 1.1)" font-size="9.8" fill="#000" text-anchor="start" font-weight="normal" letter-spacing="-0.3" >13 Jul 2020</text>
<text transform="translate(696 938) scale(1 1.1)" font-size="9.8" fill="#000" text-anchor="start" font-weight="normal" letter-spacing="-0.3" >23 Jul 2020</text>
<text transform="translate(760 938) scale(1 1.1)" font-size="9.8" fill="#000" text-anchor="start" font-weight="normal" letter-spacing="-0.3" >4 Aug 2020</text>
<text transform="translate(824 938) scale(1 1.1)" font-size="9.8" fill="#000" text-anchor="start" font-weight="normal" letter-spacing="-0.3" >14 Aug 2020</text>
<text transform="translate(888 938) scale(1 1.1)" font-size="9.8" fill="#000" text-anchor="start" font-weight="normal" letter-spacing="-0.3" >26 Aug 2020</text>
<text transform="translate(952 938) scale(1 1.1)" font-size="9.8" fill="#000" text-anchor="start" font-weight="normal" letter-spacing="-0.3" >7 Sep 2020</text>
<text transform="translate(1016 938) scale(1 1.1)" font-size="9.8" fill="#000" text-anchor="start" font-weight="normal" letter-spacing="-0.3" >17 Sep 2020</text>
<text transform="translate(1080 938) scale(1 1.1)" font-size="9.8" fill="#000" text-anchor="start" font-weight="normal" letter-spacing="-0.3" >29 Sep 2020</text>
<text transform="translate(1144 938) scale(1 1.1)" font-size="9.8" fill="#000" text-anchor="start" font-weight="normal" letter-spacing="-0.3" >13 Oct 2020</text>
<text transform="translate(1208 938) scale(1 1.1)" font-size="9.8" fill="#000" text-anchor="start" font-weight="normal" letter-spacing="-0.3" >23 Oct 2020</text>
<text transform="translate(1272 938) scale(1 1.1)" font-size="9.8" fill="#000" text-anchor="start" font-weight="normal" letter-spacing="-0.3" >5 Nov 2020</text>
<text transform="translate(1336 938) scale(1 1.1)" font-size="9.8" fill="#000" text-anchor="start" font-weight="normal" letter-spacing="-0.3" >17 Nov 2020</text>
<text transform="translate(1400 938) scale(1 1.1)" font-size="9.8" fill="#000" text-anchor="start" font-weight="normal" letter-spacing="-0.3" >27 Nov 2020</text>
<text transform="translate(8.5 36) scale(1 1.1)" font-size="9.8" fill="#000" text-anchor="start" font-weight="normal" letter-spacing="-0.25" >HK50-,Daily</text>
<text transform="translate(65 36) scale(1 1.1)" font-size="9.8" fill="#000" text-anchor="start" font-weight="normal" letter-spacing="-0.28" >26839.0 26839.0 26252.0 26417.0</text>
<polygon points="0,35 0,32 3,35" fill="#000"/>
<defs>
<linearGradient id="gTab" x1="0" y1="0" x2="0" y2="1"><stop offset="0" stop-color="#f25555"/><stop offset="1" stop-color="#dc3030"/></linearGradient>
<linearGradient id="gBig" x1="0" y1="0" x2="0" y2="1"><stop offset="0" stop-color="#dc3232"/><stop offset="0.5" stop-color="#c81c1c"/><stop offset="1" stop-color="#ad0000"/></linearGradient>
<linearGradient id="gBtn" x1="0" y1="0" x2="0" y2="1"><stop offset="0" stop-color="#f2f2f2"/><stop offset="0.5" stop-color="#dcdcdc"/><stop offset="1" stop-color="#c8c8c8"/></linearGradient>
</defs>
<g shape-rendering="crispEdges">
<rect x="0" y="44" width="215" height="64" fill="#fff"/>
<rect x="47" y="44" width="117" height="25" fill="#f4f4f4"/>
<rect x="0" y="44" width="47" height="25" fill="url(#gTab)"/>
<rect x="163" y="44" width="52" height="25" fill="url(#gTab)"/>
<rect x="0" y="68" width="105" height="40" fill="url(#gBig)"/>
<rect x="107" y="68" width="108" height="40" fill="url(#gBig)"/>
<rect x="0" y="67" width="44" height="1" fill="#f59a9a"/>
<rect x="167" y="67" width="44" height="1" fill="#f59a9a"/>
<rect x="50.5" y="44.5" width="110" height="21" fill="#fff" stroke="#a8a8a8"/>
<rect x="52" y="46" width="18" height="18" fill="url(#gBtn)"/>
<rect x="71" y="45" width="1" height="20" fill="#b8b8b8"/>
<rect x="141" y="46" width="18" height="18" fill="url(#gBtn)"/>
<rect x="139" y="45" width="1" height="20" fill="#b8b8b8"/>
</g>
<polygon points="58.5,53.5 63,53.5 60.75,56.5" fill="#4a5cc0"/>
<polygon points="147.5,56.5 152.5,56.5 150,53.3" fill="#4a5cc0"/>
<text x="135.8" y="59" font-size="12" text-anchor="end" fill="#000">1.00</text>
<text x="8" y="60" font-size="12" fill="#fff" letter-spacing="-0.2">SELL</text>
<text x="176.5" y="60" font-size="12" fill="#fff" letter-spacing="-0.3">BUY</text>
<text x="12" y="98.7" font-size="12" font-weight="bold" fill="#fff" letter-spacing="0.1">26415</text>
<text x="122" y="98.7" font-size="12" font-weight="bold" fill="#fff" letter-spacing="0.1">26434</text>
<rect x="51.5" y="95" width="3.6" height="3.6" fill="#fff"/>
<rect x="162.5" y="95" width="3.6" height="3.6" fill="#fff"/>
<text x="58" y="98.6" font-size="32.5" fill="#fff" textLength="16" lengthAdjust="spacingAndGlyphs">5</text>
<text x="169" y="98.6" font-size="32.5" fill="#fff" textLength="16" lengthAdjust="spacingAndGlyphs">5</text>
<defs>
<linearGradient id="gTb" x1="0" y1="0" x2="0" y2="1"><stop offset="0" stop-color="#7a7a7a"/><stop offset="0.45" stop-color="#a0a0a0"/><stop offset="1" stop-color="#ececec"/></linearGradient>
<linearGradient id="gGold" x1="0" y1="0" x2="1" y2="1"><stop offset="0" stop-color="#f8d050"/><stop offset="1" stop-color="#a86c10"/></linearGradient>
<linearGradient id="gPlus" x1="0" y1="0" x2="0" y2="1"><stop offset="0" stop-color="#50e050"/><stop offset="1" stop-color="#0a9a0a"/></linearGradient>
<linearGradient id="gBlue" x1="0" y1="0" x2="0" y2="1"><stop offset="0" stop-color="#5aa8f0"/><stop offset="1" stop-color="#1a58c8"/></linearGradient>
<radialGradient id="gRed" cx="0.4" cy="0.35" r="0.7"><stop offset="0" stop-color="#f06040"/><stop offset="1" stop-color="#c81810"/></radialGradient>
<pattern id="chk" width="2" height="2" patternUnits="userSpaceOnUse"><rect width="2" height="2" fill="#f0f0f0"/><rect width="1" height="1" fill="#fafafa"/><rect x="1" y="1" width="1" height="1" fill="#fafafa"/></pattern>
</defs>
<rect x="0" y="0" width="1730" height="20" fill="#f0f0f0"/>
<g shape-rendering="crispEdges"><rect x="0" y="20" width="1730" height="1" fill="#b4b4b4"/><rect x="0" y="21" width="1730" height="1" fill="#6e6e6e"/><rect x="0" y="22" width="1730" height="1" fill="#e4e4e4"/><rect x="0" y="23" width="1730" height="1" fill="#ffffff"/></g>
<rect x="1729" y="20" width="1" height="923" fill="#e0e0e0"/>
<rect x="-3" y="1.5" width="9.5" height="13" rx="1" fill="#fff" stroke="#4a7ac8" stroke-width="1.2"/>
<rect x="0" y="4" width="5" height="0.8" fill="#9ab8ec"/>
<rect x="0" y="6" width="5" height="0.8" fill="#9ab8ec"/>
<rect x="0" y="8" width="5" height="0.8" fill="#9ab8ec"/>
<rect x="0" y="10" width="5" height="0.8" fill="#9ab8ec"/>
<rect x="0" y="12" width="5" height="0.8" fill="#9ab8ec"/>
<rect x="20" y="1" width="11" height="12" fill="#ececec" stroke="#b8b8b8" stroke-width="0.8"/>
<path d="M23,2.5 v9 M27.5,2.5 v9 M21.5,4 h3 M26,3.2 h3" stroke="#707070" stroke-width="0.9" fill="none"/>
<line x1="31" y1="12" x2="35.8" y2="16.3" stroke="#c8961e" stroke-width="2.4" stroke-linecap="round"/>
<circle cx="27.3" cy="9" r="4.7" fill="#c4dcf4" fill-opacity="0.85" stroke="#78a6e8" stroke-width="1.2"/>
<rect x="43.9" y="0" width="1" height="17.5" fill="#a8a8a8"/>
<path d="M54.5,1.5 q0,-1 1,-1 h6.5 l3,3 v9 q0,1 -1,1 h-8.5 q-1,0 -1,-1 z" fill="#fcfcfc" stroke="#707070" stroke-width="1"/>
<path d="M56.5,4 h3 M56.5,6.5 h6 M56.5,9 h4" stroke="#808080" stroke-width="1"/>
<path d="M62.7,7 h3.6 v3.7 h3.8 v3.5 h-3.8 v3.6 h-3.6 v-3.6 h-3.7 v-3.5 h3.7 z" fill="url(#gPlus)" stroke="#0c8c0c" stroke-width="0.8"/>
<polyline points="75.75,1.30 75.75,2.22" fill="none" stroke="#000" stroke-width="1.05" stroke-linecap="square" stroke-linejoin="miter"/>
<polyline points="73.00,3.13 78.50,3.13" fill="none" stroke="#000" stroke-width="1.05" stroke-linecap="square" stroke-linejoin="miter"/>
<polyline points="73.92,4.23 74.83,5.88" fill="none" stroke="#000" stroke-width="1.05" stroke-linecap="square" stroke-linejoin="miter"/>
<polyline points="77.58,4.23 76.67,5.88" fill="none" stroke="#000" stroke-width="1.05" stroke-linecap="square" stroke-linejoin="miter"/>
<polyline points="73.00,6.80 78.96,6.80" fill="none" stroke="#000" stroke-width="1.05" stroke-linecap="square" stroke-linejoin="miter"/>
<polyline points="75.75,6.80 75.75,12.30" fill="none" stroke="#000" stroke-width="1.05" stroke-linecap="square" stroke-linejoin="miter"/>
<polyline points="73.00,9.09 78.50,9.09" fill="none" stroke="#000" stroke-width="1.05" stroke-linecap="square" stroke-linejoin="miter"/>
<polyline points="75.75,9.09 73.00,11.84" fill="none" stroke="#000" stroke-width="1.05" stroke-linecap="square" stroke-linejoin="miter"/>
<polyline points="76.21,9.55 78.50,11.38" fill="none" stroke="#000" stroke-width="1.05" stroke-linecap="square" stroke-linejoin="miter"/>
<polyline points="83.54,1.57 79.88,3.13" fill="none" stroke="#000" stroke-width="1.05" stroke-linecap="square" stroke-linejoin="miter"/>
<polyline points="79.88,3.13 79.88,7.72 78.96,12.30" fill="none" stroke="#000" stroke-width="1.05" stroke-linecap="square" stroke-linejoin="miter"/>
<polyline points="79.88,5.88 84.00,5.88" fill="none" stroke="#000" stroke-width="1.05" stroke-linecap="square" stroke-linejoin="miter"/>
<polyline points="82.17,5.88 82.17,12.30" fill="none" stroke="#000" stroke-width="1.05" stroke-linecap="square" stroke-linejoin="miter"/>
<polyline points="86.02,1.76 87.39,3.13" fill="none" stroke="#000" stroke-width="1.05" stroke-linecap="square" stroke-linejoin="miter"/>
<polyline points="85.10,4.97 87.39,4.97 87.39,10.93 89.22,9.55" fill="none" stroke="#000" stroke-width="1.05" stroke-linecap="square" stroke-linejoin="miter"/>
<polyline points="89.22,2.67 96.10,2.67" fill="none" stroke="#000" stroke-width="1.05" stroke-linecap="square" stroke-linejoin="miter"/>
<polyline points="92.89,2.67 92.89,11.84 91.06,10.93" fill="none" stroke="#000" stroke-width="1.05" stroke-linecap="square" stroke-linejoin="miter"/>
<polyline points="99.95,1.30 101.05,3.13" fill="none" stroke="#000" stroke-width="1.05" stroke-linecap="square" stroke-linejoin="miter"/>
<polyline points="105.45,1.30 104.35,3.13" fill="none" stroke="#000" stroke-width="1.05" stroke-linecap="square" stroke-linejoin="miter"/>
<polyline points="99.03,4.05 106.37,4.05 106.37,8.63 99.03,8.63 99.03,4.05" fill="none" stroke="#000" stroke-width="1.05" stroke-linecap="square" stroke-linejoin="miter"/>
<polyline points="99.03,6.34 106.37,6.34" fill="none" stroke="#000" stroke-width="1.05" stroke-linecap="square" stroke-linejoin="miter"/>
<polyline points="102.70,4.05 102.70,12.30" fill="none" stroke="#000" stroke-width="1.05" stroke-linecap="square" stroke-linejoin="miter"/>
<polyline points="97.20,10.47 108.20,10.47" fill="none" stroke="#000" stroke-width="1.05" stroke-linecap="square" stroke-linejoin="miter"/>
<polygon points="125.5,1.2 137,8 131,15.8 121.2,10.5" fill="url(#gGold)" stroke="#9a6a10" stroke-width="0.8"/>
<polyline points="121.2,10.5 122,12.5 131.2,17 137,9.5" fill="none" stroke="#b07a18" stroke-width="1.2"/>
<rect x="152" y="-1" width="9.6" height="10" fill="url(#gBlue)"/>
<path d="M154,2 h5.6 M154,4.5 h5.6" stroke="#d8ecff" stroke-width="1"/>
<path d="M150.8,15.8 q-2.4,-0.4 -1.8,-2.8 q0.6,-2 2.8,-1.6 q0.8,-2.8 3.8,-2.6 q2.6,0.2 3.2,2.4 q2,-1 3.6,0.4 q1.4,1.6 0.4,3.2 q-0.6,0.9 -1.8,1 z" fill="#eef4fc" stroke="#6888c8" stroke-width="1"/>
<g fill="none" stroke-width="1.2"><path d="M181,2.6 a6,6 0 0 0 0,10.4" stroke="#7a98d8"/><path d="M179.2,0.8 a8.6,8.6 0 0 0 0,14" stroke="#b4c4e8"/><path d="M182.6,4.6 a3.6,3.6 0 0 0 0,6.4" stroke="#4a70cc"/>
<path d="M188.4,2.6 a6,6 0 0 1 0,10.4" stroke="#8ab48a"/><path d="M190.2,0.8 a8.6,8.6 0 0 1 -3,14.6" stroke="#a8c8a8"/><path d="M186.8,4.6 a3.6,3.6 0 0 1 0,6.4" stroke="#4a9a4a"/></g>
<path d="M185,8 v7.6 q3,0 4.6,-2.4" stroke="#28a428" stroke-width="1.4" fill="none"/>
<circle cx="184.8" cy="7.8" r="1.7" fill="#2454d4"/>
<polygon points="205,6.5 219,6.5 213.5,15.4 209.5,14" fill="#f8dc48" stroke="#d8a820" stroke-width="0.7"/>
<ellipse cx="212" cy="4.6" rx="7.8" ry="2.4" fill="#58a8e8"/><path d="M207.6,4 q0.6,-4.6 4.4,-5 q3.8,0.4 4.4,5 z" fill="#6cb8f0"/>
<circle cx="216.5" cy="11.9" r="4.2" fill="#d82010" stroke="#b01808" stroke-width="0.5"/><rect x="214.8" y="10.2" width="3.4" height="3.4" fill="#fff"/>
<polyline points="231.38,1.30 230.18,3.13" fill="none" stroke="#000" stroke-width="1.05" stroke-linecap="square" stroke-linejoin="miter"/>
<polyline points="227.43,3.13 234.77,3.13 234.77,12.30 227.43,12.30 227.43,3.13" fill="none" stroke="#000" stroke-width="1.05" stroke-linecap="square" stroke-linejoin="miter"/>
<polyline points="227.43,6.16 234.77,6.16" fill="none" stroke="#000" stroke-width="1.05" stroke-linecap="square" stroke-linejoin="miter"/>
<polyline points="227.43,9.18 234.77,9.18" fill="none" stroke="#000" stroke-width="1.05" stroke-linecap="square" stroke-linejoin="miter"/>
<polyline points="238.42,3.13 242.08,3.13" fill="none" stroke="#000" stroke-width="1.05" stroke-linecap="square" stroke-linejoin="miter"/>
<polyline points="237.50,5.88 243.00,5.88" fill="none" stroke="#000" stroke-width="1.05" stroke-linecap="square" stroke-linejoin="miter"/>
<polyline points="240.25,5.88 238.42,10.47 242.27,10.01" fill="none" stroke="#000" stroke-width="1.05" stroke-linecap="square" stroke-linejoin="miter"/>
<polyline points="241.62,8.18 243.00,11.38" fill="none" stroke="#000" stroke-width="1.05" stroke-linecap="square" stroke-linejoin="miter"/>
<polyline points="243.46,4.51 248.50,4.51 247.86,12.30 246.21,11.38" fill="none" stroke="#000" stroke-width="1.05" stroke-linecap="square" stroke-linejoin="miter"/>
<polyline points="245.75,1.30 245.75,5.88 243.00,12.30" fill="none" stroke="#000" stroke-width="1.05" stroke-linecap="square" stroke-linejoin="miter"/>
<polyline points="254.90,1.30 254.90,2.67" fill="none" stroke="#000" stroke-width="1.05" stroke-linecap="square" stroke-linejoin="miter"/>
<polyline points="249.40,3.59 260.40,3.59" fill="none" stroke="#000" stroke-width="1.05" stroke-linecap="square" stroke-linejoin="miter"/>
<polyline points="253.07,4.51 250.32,7.26" fill="none" stroke="#000" stroke-width="1.05" stroke-linecap="square" stroke-linejoin="miter"/>
<polyline points="256.73,4.51 259.48,7.26" fill="none" stroke="#000" stroke-width="1.05" stroke-linecap="square" stroke-linejoin="miter"/>
<polyline points="257.65,7.26 254.44,10.47 249.86,12.30" fill="none" stroke="#000" stroke-width="1.05" stroke-linecap="square" stroke-linejoin="miter"/>
<polyline points="252.15,7.26 255.82,10.47 260.22,12.30" fill="none" stroke="#000" stroke-width="1.05" stroke-linecap="square" stroke-linejoin="miter"/>
<polyline points="264.05,1.30 269.55,1.30 269.55,5.88 264.05,5.88 264.05,1.30" fill="none" stroke="#000" stroke-width="1.05" stroke-linecap="square" stroke-linejoin="miter"/>
<polyline points="264.05,3.59 269.55,3.59" fill="none" stroke="#000" stroke-width="1.05" stroke-linecap="square" stroke-linejoin="miter"/>
<polyline points="264.97,5.88 261.30,9.55" fill="none" stroke="#000" stroke-width="1.05" stroke-linecap="square" stroke-linejoin="miter"/>
<polyline points="263.59,7.72 271.84,7.72 270.93,12.30 269.09,11.38" fill="none" stroke="#000" stroke-width="1.05" stroke-linecap="square" stroke-linejoin="miter"/>
<polyline points="266.80,7.72 263.13,12.30" fill="none" stroke="#000" stroke-width="1.05" stroke-linecap="square" stroke-linejoin="miter"/>
<polyline points="269.09,7.72 265.88,12.30" fill="none" stroke="#000" stroke-width="1.05" stroke-linecap="square" stroke-linejoin="miter"/>
<rect x="280" y="0" width="1" height="19.5" fill="#b4b4b4"/><rect x="281" y="0" width="1" height="19.5" fill="#fcfcfc"/>
<rect x="284" y="0" width="3" height="1" fill="#a8a8a8"/>
<rect x="284" y="2" width="3" height="1" fill="#a8a8a8"/>
<rect x="284" y="4" width="3" height="1" fill="#a8a8a8"/>
<rect x="284" y="6" width="3" height="1" fill="#a8a8a8"/>
<rect x="284" y="8" width="3" height="1" fill="#a8a8a8"/>
<rect x="284" y="10" width="3" height="1" fill="#a8a8a8"/>
<rect x="284" y="12" width="3" height="1" fill="#a8a8a8"/>
<rect x="284" y="14" width="3" height="1" fill="#a8a8a8"/>
<rect x="284" y="16" width="3" height="1" fill="#a8a8a8"/>
<g stroke="#484848" stroke-width="1.2" fill="none"><line x1="298.5" y1="3" x2="298.5" y2="16"/><line x1="296.0" y1="13.4" x2="309.5" y2="13.4"/><polyline points="296.9,4.6 298.5,2.6 300.1,4.6"/><polyline points="308.1,11.9 309.9,13.4 308.1,14.9"/></g>
<path d="M304.9,4 v7.3 M304.9,4.2 h2.2 M302.4,10.7 h2.5" stroke="#0a9a0a" stroke-width="1.3" fill="none"/>
<rect x="317.7" y="0" width="1" height="17.5" fill="#a8a8a8"/>
<rect x="318.7" y="0" width="24.3" height="18" fill="url(#chk)"/>
<g stroke="#484848" stroke-width="1.2" fill="none"><line x1="326.4" y1="3" x2="326.4" y2="16"/><line x1="323.9" y1="13.4" x2="337.4" y2="13.4"/><polyline points="324.79999999999995,4.6 326.4,2.6 328.0,4.6"/><polyline points="336.0,11.9 337.79999999999995,13.4 336.0,14.9"/></g>
<line x1="332.6" y1="0" x2="332.6" y2="11.8" stroke="#0a8a0a" stroke-width="1.2"/><rect x="330.5" y="2.8" width="4.2" height="6.6" fill="url(#gPlus)" stroke="#0a8a0a" stroke-width="0.9"/>
<g stroke="#484848" stroke-width="1.2" fill="none"><line x1="354.6" y1="3" x2="354.6" y2="16"/><line x1="352.1" y1="13.4" x2="365.6" y2="13.4"/><polyline points="353.0,4.6 354.6,2.6 356.20000000000005,4.6"/><polyline points="364.20000000000005,11.9 366.0,13.4 364.20000000000005,14.9"/></g>
<path d="M353.3,10.8 q3,-5 5.6,-5.6 q2.6,0.4 5.7,3.9" stroke="#0a9a0a" stroke-width="1.3" fill="none"/>
<rect x="374.9" y="0" width="1" height="17.5" fill="#a8a8a8"/>
<line x1="394.1" y1="10.1" x2="399.1" y2="14.7" stroke="#8a6a10" stroke-width="3.6" stroke-linecap="round"/>
<line x1="394.5" y1="10.5" x2="398.90000000000003" y2="14.5" stroke="#e8c838" stroke-width="2" stroke-linecap="round"/>
<circle cx="390.1" cy="6.1" r="5.5" fill="#d4e6f8" stroke="#3a74cc" stroke-width="1.4"/>
<line x1="387.1" y1="6.1" x2="393.1" y2="6.1" stroke="#3878c0" stroke-width="1.8"/>
<line x1="390.1" y1="3.0999999999999996" x2="390.1" y2="9.1" stroke="#3878c0" stroke-width="1.8"/>
<line x1="421.9" y1="10.1" x2="426.9" y2="14.7" stroke="#8a6a10" stroke-width="3.6" stroke-linecap="round"/>
<line x1="422.29999999999995" y1="10.5" x2="426.7" y2="14.5" stroke="#e8c838" stroke-width="2" stroke-linecap="round"/>
<circle cx="417.9" cy="6.1" r="5.5" fill="#d4e6f8" stroke="#3a74cc" stroke-width="1.4"/>
<line x1="414.9" y1="6.1" x2="420.9" y2="6.1" stroke="#3878c0" stroke-width="1.8"/>
<rect x="440.2" y="0" width="7.7" height="7.8" rx="1" fill="#4aa41e"/><rect x="441.8" y="3.2" width="4.6" height="3.4" fill="#f0f4ff"/><rect x="441.8" y="4.6" width="4.6" height="0.7" fill="#4aa41e" fill-opacity="0.6"/>
<rect x="448.1" y="0" width="7.7" height="7.8" rx="1" fill="#2a5cdc"/><rect x="449.70000000000005" y="3.2" width="4.6" height="3.4" fill="#f0f4ff"/><rect x="449.70000000000005" y="4.6" width="4.6" height="0.7" fill="#2a5cdc" fill-opacity="0.6"/>
<rect x="440.2" y="8" width="7.7" height="7.8" rx="1" fill="#2a5cdc"/><rect x="441.8" y="11.2" width="4.6" height="3.4" fill="#f0f4ff"/><rect x="441.8" y="12.6" width="4.6" height="0.7" fill="#2a5cdc" fill-opacity="0.6"/>
<rect x="448.1" y="8" width="7.7" height="7.8" rx="1" fill="#4aa41e"/><rect x="449.70000000000005" y="11.2" width="4.6" height="3.4" fill="#f0f4ff"/><rect x="449.70000000000005" y="12.6" width="4.6" height="0.7" fill="#4aa41e" fill-opacity="0.6"/>
<rect x="464.8" y="0" width="1" height="17.5" fill="#a8a8a8"/>
<rect x="469.8" y="0" width="1" height="17.5" fill="#a8a8a8"/>
<rect x="470.8" y="0" width="23.8" height="18" fill="url(#chk)"/>
<g stroke="#484848" stroke-width="1.2" fill="none"><line x1="478.5" y1="3" x2="478.5" y2="16"/><line x1="476.0" y1="13.4" x2="489.5" y2="13.4"/><polyline points="476.9,4.6 478.5,2.6 480.1,4.6"/><polyline points="488.1,11.9 489.9,13.4 488.1,14.9"/></g>
<polygon points="483.4,4.3 483.4,10.4 486.9,7.4" fill="none" stroke="#18a018" stroke-width="1.2"/>
<rect x="498" y="0" width="1" height="17.5" fill="#a8a8a8"/>
<rect x="499" y="0" width="23.8" height="18" fill="url(#chk)"/>
<g stroke="#484848" stroke-width="1.2" fill="none"><line x1="506.5" y1="3" x2="506.5" y2="16"/><line x1="504.0" y1="13.4" x2="517.5" y2="13.4"/><polyline points="504.9,4.6 506.5,2.6 508.1,4.6"/><polyline points="516.1,11.9 517.9,13.4 516.1,14.9"/></g>
<line x1="512.6" y1="2" x2="512.6" y2="11.2" stroke="#1a6aa8" stroke-width="1.2"/><path d="M518,7.4 h-4.4 M515.6,5.6 l-2,1.8 l2,1.8" stroke="#e04010" stroke-width="1.2" fill="none"/>
<rect x="526.9" y="0" width="1" height="17.5" fill="#a8a8a8"/>
<path d="M537.7,1.5 q0,-1 1,-1 h6.5 l3,3 v9 q0,1 -1,1 h-8.5 q-1,0 -1,-1 z" fill="#fcfcfc" stroke="#707070" stroke-width="1"/>
<path d="M539.7,4 h3 M539.7,6.5 h6 M539.7,9 h4" stroke="#808080" stroke-width="1"/>
<path d="M545.9000000000001,7 h3.6 v3.7 h3.8 v3.5 h-3.8 v3.6 h-3.6 v-3.6 h-3.7 v-3.5 h3.7 z" fill="url(#gPlus)" stroke="#0c8c0c" stroke-width="0.8"/>
<polygon points="558.8,7 564.4,7 561.5999999999999,10" fill="#000"/>
<circle cx="583" cy="8.3" r="6.7" fill="#e8f2fc" stroke="#1a6ad4" stroke-width="2.8"/><rect x="581.6" y="-0.6" width="2.8" height="1.6" fill="#1a5ab8"/>
<path d="M583,3.6 v4.8 h3.2" stroke="#303030" stroke-width="1.2" fill="none"/>
<polygon points="597.8,7 603.4,7 600.5999999999999,10" fill="#000"/>
<rect x="614.5" y="1.3" width="15" height="13.2" fill="#fff" stroke="#3a72d4" stroke-width="1.1"/><rect x="615" y="1.8" width="14" height="2" fill="#5a98e8"/><rect x="615" y="8.8" width="14" height="0.9" fill="#5a88d8"/>
<polyline points="616.5,7.2 619,6.6 621,5.4 623.4,6.4 625.4,5.8 627.8,5" stroke="#a82000" stroke-width="1.2" fill="none"/>
<polyline points="616.8,12.8 619.4,11.8 621.4,12.4 624.4,10.4 627.6,12.6" stroke="#0a8a0a" stroke-width="1.2" fill="none"/>
<polygon points="636.9,7 642.5,7 639.6999999999999,10" fill="#000"/>
<rect x="648" y="0" width="1" height="19.5" fill="#a0a0a0"/><rect x="649" y="0" width="1" height="19.5" fill="#fcfcfc"/>
<rect x="652" y="0" width="3" height="1" fill="#a8a8a8"/>
<rect x="652" y="2" width="3" height="1" fill="#a8a8a8"/>
<rect x="652" y="4" width="3" height="1" fill="#a8a8a8"/>
<rect x="652" y="6" width="3" height="1" fill="#a8a8a8"/>
<rect x="652" y="8" width="3" height="1" fill="#a8a8a8"/>
<rect x="652" y="10" width="3" height="1" fill="#a8a8a8"/>
<rect x="652" y="12" width="3" height="1" fill="#a8a8a8"/>
<rect x="652" y="14" width="3" height="1" fill="#a8a8a8"/>
<rect x="652" y="16" width="3" height="1" fill="#a8a8a8"/>
<rect x="657.9" y="0" width="1" height="17.5" fill="#a8a8a8"/>
<rect x="658.9" y="0" width="24.3" height="18" fill="url(#chk)"/>
<polygon points="666.2,1.2 666.2,12 668.8,9.6 671.4,14.8 673.2,13.9 670.8,8.9 674.4,8.6" fill="#505050"/>
<path d="M691,8.4 h6 M700,8.4 h6 M698.5,1.3 v5.5 M698.5,10 v6" stroke="#505050" stroke-width="1.1"/><rect x="698" y="7.9" width="1" height="1" fill="#505050"/>
<rect x="715.1" y="0" width="1" height="17.5" fill="#a8a8a8"/>
<line x1="732.5" y1="2.2" x2="732.5" y2="14.7" stroke="#484848" stroke-width="1.4"/>
<line x1="755" y1="8.4" x2="767.2" y2="8.4" stroke="#484848" stroke-width="1.4"/>
<line x1="782.8" y1="14.7" x2="795" y2="3" stroke="#484848" stroke-width="1.3"/>
<g stroke="#484848" stroke-width="1"><line x1="809" y1="9.5" x2="818" y2="2"/><line x1="811" y1="14.5" x2="822" y2="5.5"/><line x1="811.3" y1="7.2" x2="812.8" y2="13.6"/><line x1="814" y1="5" x2="815.5" y2="11.4"/><line x1="816.7" y1="2.8" x2="818.2" y2="9.2"/><line x1="820" y1="0" x2="821" y2="6.4"/></g>
<text x="819.8" y="16.6" font-size="6.5" font-weight="bold" fill="#383838">E</text>
<line x1="838" y1="1.6" x2="851" y2="1.6" stroke="#585858" stroke-width="0.9" stroke-dasharray="1,1"/>
<line x1="838" y1="3.9" x2="851" y2="3.9" stroke="#585858" stroke-width="0.9" stroke-dasharray="1,1"/>
<line x1="838" y1="8.4" x2="851" y2="8.4" stroke="#585858" stroke-width="0.9" stroke-dasharray="1,1"/>
<line x1="838" y1="12.6" x2="851" y2="12.6" stroke="#585858" stroke-width="0.9" stroke-dasharray="1,1"/>
<rect x="846.5" y="11.5" width="6" height="6" fill="#f0f0f0"/><text x="847.8" y="16.6" font-size="6.5" font-weight="bold" fill="#383838">F</text>
<text x="868.2" y="13" font-size="13" fill="#585858">A</text>
<rect x="895.2" y="2" width="11.4" height="12.4" fill="none" stroke="#585858" stroke-width="1" stroke-dasharray="1,1"/><path d="M897.2,5.4 h7.6 M901,5.4 v7.6" stroke="#505050" stroke-width="1.5"/>
<polygon points="925.6,1.8 928.6,4.6 925.6,6.4 922.6,4.6" fill="#484848"/><polygon points="932.6,14.8 935.8,11.4 932.6,10 929.4,11.4" fill="#484848"/><polyline points="924,9.4 926.4,11.4 931.4,5.6" fill="none" stroke="#484848" stroke-width="1.3"/>
<polygon points="942.5,7 948.1,7 945.3,10" fill="#000"/>
<rect x="954" y="0" width="1" height="19.5" fill="#a0a0a0"/><rect x="955" y="0" width="1" height="19.5" fill="#fcfcfc"/>
<rect x="958" y="0" width="3" height="1" fill="#a8a8a8"/>
<rect x="958" y="2" width="3" height="1" fill="#a8a8a8"/>
<rect x="958" y="4" width="3" height="1" fill="#a8a8a8"/>
<rect x="958" y="6" width="3" height="1" fill="#a8a8a8"/>
<rect x="958" y="8" width="3" height="1" fill="#a8a8a8"/>
<rect x="958" y="10" width="3" height="1" fill="#a8a8a8"/>
<rect x="958" y="12" width="3" height="1" fill="#a8a8a8"/>
<rect x="958" y="14" width="3" height="1" fill="#a8a8a8"/>
<rect x="958" y="16" width="3" height="1" fill="#a8a8a8"/>
<rect x="1132.7" y="0" width="24.1" height="18" fill="url(#chk)"/>
<rect x="1132.2" y="0" width="1" height="17.5" fill="#a8a8a8"/>
<text x="969" y="11.8" font-size="10.3" fill="#484848" letter-spacing="-0.3">M1</text>
<text x="996.8" y="11.8" font-size="10.3" fill="#484848" letter-spacing="-0.3">M5</text>
<text x="1023" y="11.8" font-size="10.3" fill="#484848" letter-spacing="-0.3">M15</text>
<text x="1050.8" y="11.8" font-size="10.3" fill="#484848" letter-spacing="-0.3">M30</text>
<text x="1082" y="11.8" font-size="10.3" fill="#484848" letter-spacing="-0.3">H1</text>
<text x="1109.2" y="11.8" font-size="10.3" fill="#484848" letter-spacing="-0.3">H4</text>
<text x="1137.6" y="11.8" font-size="10.3" fill="#484848" letter-spacing="-0.3">D1</text>
<text x="1165.4" y="11.8" font-size="10.3" fill="#484848" letter-spacing="-0.3">W1</text>
<text x="1192" y="11.8" font-size="10.3" fill="#484848" letter-spacing="-0.3">MN</text>
<rect x="1215" y="0" width="1" height="19.5" fill="#a8a8a8"/><rect x="1216" y="0" width="1" height="19.5" fill="#fcfcfc"/>
<line x1="1677.6" y1="13.2" x2="1681.6" y2="9.4" stroke="#2a5ccc" stroke-width="2.4" stroke-linecap="round"/><circle cx="1685" cy="5.8" r="3.9" fill="#f4f8ff" stroke="#2a5ccc" stroke-width="1.5"/>
<path d="M1703,10 q0,-4 5,-4 q6,0 6,4 q0,3.6 -5.4,3.8 l-3,2.6 l0.4,-3 q-3,-0.8 -3,-3.4 z" fill="#e4e4ea" stroke="#c0c0c8" stroke-width="0.8"/>
<circle cx="1716.7" cy="5.6" r="8.2" fill="url(#gRed)"/>
<text x="1716.6" y="10" font-size="12" fill="#fff" text-anchor="middle">1</text>
</svg>
</body></html>
